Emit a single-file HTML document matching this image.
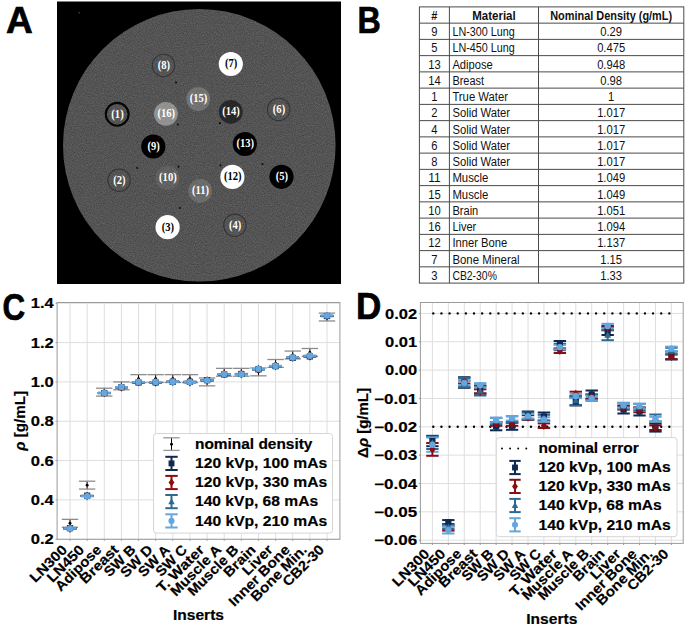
<!DOCTYPE html>
<html><head><meta charset="utf-8"><style>
html,body{margin:0;padding:0;background:#fff;}
body{width:685px;height:626px;overflow:hidden;}
svg{display:block;font-family:"Liberation Sans", sans-serif;}
.ct text{stroke:#000;stroke-width:0.18px;}
</style></head><body>
<svg width="685" height="626" viewBox="0 0 685 626">
<defs>
<filter id="noise" x="0" y="0" width="100%" height="100%" color-interpolation-filters="sRGB">
<feTurbulence type="fractalNoise" baseFrequency="0.9" numOctaves="2" seed="7" result="t"/>
<feColorMatrix in="t" type="matrix" values="0.2 0 0 0 0.229  0.2 0 0 0 0.229  0.2 0 0 0 0.229  0 0 0 0 1" result="g"/>
<feGaussianBlur in="g" stdDeviation="0.55" result="b"/>
<feComposite in="b" in2="SourceGraphic" operator="in"/>
</filter>
</defs>
<rect width="685" height="626" fill="#fff"/>
<text x="5.9" y="32.8" font-size="37" font-weight="bold" fill="#000" stroke="#000" stroke-width="0.7">A</text>
<rect x="57" y="1.5" width="284" height="282.5" fill="#000"/>
<circle cx="79.2" cy="12.8" r="0.8" fill="#8a3010"/>
<circle cx="199.3" cy="145.3" r="136.3" fill="#545454" filter="url(#noise)"/>
<circle cx="117.2" cy="114.3" r="11.4" fill="none" stroke="#050505" stroke-width="2.1"/>
<circle cx="119.1" cy="180.3" r="11.2" fill="none" stroke="#2a2a2a" stroke-width="1.1" stroke-opacity="0.75"/>
<circle cx="167.6" cy="227.2" r="12.1" fill="#ffffff"/>
<circle cx="234.9" cy="225.3" r="11.2" fill="none" stroke="#2a2a2a" stroke-width="1.1" stroke-opacity="0.75"/>
<circle cx="281.5" cy="176.8" r="12.1" fill="#000000"/>
<circle cx="278.7" cy="109.4" r="11.2" fill="none" stroke="#2a2a2a" stroke-width="1.1" stroke-opacity="0.75"/>
<circle cx="230.8" cy="64.0" r="12.1" fill="#ffffff"/>
<circle cx="163.5" cy="65.5" r="11.2" fill="none" stroke="#2a2a2a" stroke-width="1.1" stroke-opacity="0.75"/>
<circle cx="153.3" cy="146.5" r="12.1" fill="#000000"/>
<circle cx="167.6" cy="178.0" r="11.9" fill="#fff" fill-opacity="0.08"/>
<circle cx="200.2" cy="190.8" r="11.9" fill="#fff" fill-opacity="0.14"/>
<circle cx="232.4" cy="176.9" r="12.1" fill="#ffffff"/>
<circle cx="244.9" cy="144.0" r="12.1" fill="#000000"/>
<circle cx="230.8" cy="111.9" r="11.9" fill="#000" fill-opacity="0.52"/>
<circle cx="198.2" cy="99.0" r="11.9" fill="#fff" fill-opacity="0.18"/>
<circle cx="165.9" cy="113.8" r="11.9" fill="#fff" fill-opacity="0.36"/>
<text x="117.5" y="117.7" font-family='"Liberation Serif", serif' font-size="12" font-weight="bold" text-anchor="middle" fill="#fff" textLength="12.31" lengthAdjust="spacingAndGlyphs">(1)</text>
<text x="119.4" y="183.7" font-family='"Liberation Serif", serif' font-size="12" font-weight="bold" text-anchor="middle" fill="#fff" textLength="12.31" lengthAdjust="spacingAndGlyphs">(2)</text>
<text x="167.9" y="230.6" font-family='"Liberation Serif", serif' font-size="12" font-weight="bold" text-anchor="middle" fill="#000" textLength="12.31" lengthAdjust="spacingAndGlyphs">(3)</text>
<text x="235.2" y="228.7" font-family='"Liberation Serif", serif' font-size="12" font-weight="bold" text-anchor="middle" fill="#fff" textLength="12.31" lengthAdjust="spacingAndGlyphs">(4)</text>
<text x="281.8" y="180.2" font-family='"Liberation Serif", serif' font-size="12" font-weight="bold" text-anchor="middle" fill="#fff" textLength="12.31" lengthAdjust="spacingAndGlyphs">(5)</text>
<text x="279.0" y="112.8" font-family='"Liberation Serif", serif' font-size="12" font-weight="bold" text-anchor="middle" fill="#fff" textLength="12.31" lengthAdjust="spacingAndGlyphs">(6)</text>
<text x="231.1" y="67.4" font-family='"Liberation Serif", serif' font-size="12" font-weight="bold" text-anchor="middle" fill="#000" textLength="12.31" lengthAdjust="spacingAndGlyphs">(7)</text>
<text x="163.8" y="68.9" font-family='"Liberation Serif", serif' font-size="12" font-weight="bold" text-anchor="middle" fill="#fff" textLength="12.31" lengthAdjust="spacingAndGlyphs">(8)</text>
<text x="153.6" y="149.9" font-family='"Liberation Serif", serif' font-size="12" font-weight="bold" text-anchor="middle" fill="#fff" textLength="12.31" lengthAdjust="spacingAndGlyphs">(9)</text>
<text x="167.9" y="181.4" font-family='"Liberation Serif", serif' font-size="12" font-weight="bold" text-anchor="middle" fill="#fff" textLength="17.59" lengthAdjust="spacingAndGlyphs">(10)</text>
<text x="200.5" y="194.2" font-family='"Liberation Serif", serif' font-size="12" font-weight="bold" text-anchor="middle" fill="#fff" textLength="17.01" lengthAdjust="spacingAndGlyphs">(11)</text>
<text x="232.7" y="180.3" font-family='"Liberation Serif", serif' font-size="12" font-weight="bold" text-anchor="middle" fill="#000" textLength="17.59" lengthAdjust="spacingAndGlyphs">(12)</text>
<text x="245.2" y="147.4" font-family='"Liberation Serif", serif' font-size="12" font-weight="bold" text-anchor="middle" fill="#fff" textLength="17.59" lengthAdjust="spacingAndGlyphs">(13)</text>
<text x="231.1" y="115.3" font-family='"Liberation Serif", serif' font-size="12" font-weight="bold" text-anchor="middle" fill="#fff" textLength="17.59" lengthAdjust="spacingAndGlyphs">(14)</text>
<text x="198.5" y="102.4" font-family='"Liberation Serif", serif' font-size="12" font-weight="bold" text-anchor="middle" fill="#fff" textLength="17.59" lengthAdjust="spacingAndGlyphs">(15)</text>
<text x="166.2" y="117.2" font-family='"Liberation Serif", serif' font-size="12" font-weight="bold" text-anchor="middle" fill="#fff" textLength="17.59" lengthAdjust="spacingAndGlyphs">(16)</text>
<circle cx="176.1" cy="82.6" r="1.1" fill="#111"/>
<circle cx="177.8" cy="124.5" r="1.1" fill="#111"/>
<circle cx="219.9" cy="123.2" r="1.1" fill="#111"/>
<circle cx="137.2" cy="168.0" r="1.1" fill="#111"/>
<circle cx="178.5" cy="166.7" r="1.1" fill="#111"/>
<circle cx="220.5" cy="165.3" r="1.1" fill="#111"/>
<circle cx="262.5" cy="164.0" r="1.1" fill="#111"/>
<circle cx="180.0" cy="208.0" r="1.1" fill="#111"/>
<text x="357.6" y="32.8" font-size="36" font-weight="bold" fill="#000" stroke="#000" stroke-width="0.7" textLength="23.3" lengthAdjust="spacingAndGlyphs">B</text>
<g stroke="#4a4a4a" stroke-width="1" fill="none">
<rect x="419.4" y="6.9" width="264.4" height="276.2"/>
<line x1="449.4" y1="6.9" x2="449.4" y2="283.1"/>
<line x1="538.5" y1="6.9" x2="538.5" y2="283.1"/>
<line x1="419.4" y1="23.15" x2="683.8" y2="23.15"/>
<line x1="419.4" y1="39.39" x2="683.8" y2="39.39"/>
<line x1="419.4" y1="55.64" x2="683.8" y2="55.64"/>
<line x1="419.4" y1="71.89" x2="683.8" y2="71.89"/>
<line x1="419.4" y1="88.14" x2="683.8" y2="88.14"/>
<line x1="419.4" y1="104.38" x2="683.8" y2="104.38"/>
<line x1="419.4" y1="120.63" x2="683.8" y2="120.63"/>
<line x1="419.4" y1="136.88" x2="683.8" y2="136.88"/>
<line x1="419.4" y1="153.12" x2="683.8" y2="153.12"/>
<line x1="419.4" y1="169.37" x2="683.8" y2="169.37"/>
<line x1="419.4" y1="185.62" x2="683.8" y2="185.62"/>
<line x1="419.4" y1="201.86" x2="683.8" y2="201.86"/>
<line x1="419.4" y1="218.11" x2="683.8" y2="218.11"/>
<line x1="419.4" y1="234.36" x2="683.8" y2="234.36"/>
<line x1="419.4" y1="250.61" x2="683.8" y2="250.61"/>
<line x1="419.4" y1="266.85" x2="683.8" y2="266.85"/>
</g>
<text x="434.40" y="19.80" font-size="12" font-weight="bold" text-anchor="middle" fill="#111" textLength="6.13" lengthAdjust="spacingAndGlyphs">#</text>
<text x="493.95" y="19.80" font-size="12" font-weight="bold" text-anchor="middle" fill="#111" textLength="43.50" lengthAdjust="spacingAndGlyphs">Material</text>
<text x="611.15" y="19.80" font-size="12" font-weight="bold" text-anchor="middle" fill="#111" textLength="121.97" lengthAdjust="spacingAndGlyphs">Nominal Density (g/mL)</text>
<text x="434.40" y="36.05" font-size="12" font-weight="normal" text-anchor="middle" fill="#111" textLength="6.23" lengthAdjust="spacingAndGlyphs">9</text>
<text x="452.40" y="36.05" font-size="12" font-weight="normal" text-anchor="start" fill="#111" textLength="62.25" lengthAdjust="spacingAndGlyphs">LN-300 Lung</text>
<text x="611.15" y="36.05" font-size="12" font-weight="normal" text-anchor="middle" fill="#111" textLength="21.81" lengthAdjust="spacingAndGlyphs">0.29</text>
<text x="434.40" y="52.29" font-size="12" font-weight="normal" text-anchor="middle" fill="#111" textLength="6.23" lengthAdjust="spacingAndGlyphs">5</text>
<text x="452.40" y="52.29" font-size="12" font-weight="normal" text-anchor="start" fill="#111" textLength="62.25" lengthAdjust="spacingAndGlyphs">LN-450 Lung</text>
<text x="611.15" y="52.29" font-size="12" font-weight="normal" text-anchor="middle" fill="#111" textLength="28.04" lengthAdjust="spacingAndGlyphs">0.475</text>
<text x="434.40" y="68.54" font-size="12" font-weight="normal" text-anchor="middle" fill="#111" textLength="12.47" lengthAdjust="spacingAndGlyphs">13</text>
<text x="452.40" y="68.54" font-size="12" font-weight="normal" text-anchor="start" fill="#111" textLength="40.28" lengthAdjust="spacingAndGlyphs">Adipose</text>
<text x="611.15" y="68.54" font-size="12" font-weight="normal" text-anchor="middle" fill="#111" textLength="28.04" lengthAdjust="spacingAndGlyphs">0.948</text>
<text x="434.40" y="84.79" font-size="12" font-weight="normal" text-anchor="middle" fill="#111" textLength="12.47" lengthAdjust="spacingAndGlyphs">14</text>
<text x="452.40" y="84.79" font-size="12" font-weight="normal" text-anchor="start" fill="#111" textLength="31.62" lengthAdjust="spacingAndGlyphs">Breast</text>
<text x="611.15" y="84.79" font-size="12" font-weight="normal" text-anchor="middle" fill="#111" textLength="21.81" lengthAdjust="spacingAndGlyphs">0.98</text>
<text x="434.40" y="101.04" font-size="12" font-weight="normal" text-anchor="middle" fill="#111" textLength="6.23" lengthAdjust="spacingAndGlyphs">1</text>
<text x="452.40" y="101.04" font-size="12" font-weight="normal" text-anchor="start" fill="#111" textLength="55.57" lengthAdjust="spacingAndGlyphs">True Water</text>
<text x="611.15" y="101.04" font-size="12" font-weight="normal" text-anchor="middle" fill="#111" textLength="6.23" lengthAdjust="spacingAndGlyphs">1</text>
<text x="434.40" y="117.28" font-size="12" font-weight="normal" text-anchor="middle" fill="#111" textLength="6.23" lengthAdjust="spacingAndGlyphs">2</text>
<text x="452.40" y="117.28" font-size="12" font-weight="normal" text-anchor="start" fill="#111" textLength="57.72" lengthAdjust="spacingAndGlyphs">Solid Water</text>
<text x="611.15" y="117.28" font-size="12" font-weight="normal" text-anchor="middle" fill="#111" textLength="28.04" lengthAdjust="spacingAndGlyphs">1.017</text>
<text x="434.40" y="133.53" font-size="12" font-weight="normal" text-anchor="middle" fill="#111" textLength="6.23" lengthAdjust="spacingAndGlyphs">4</text>
<text x="452.40" y="133.53" font-size="12" font-weight="normal" text-anchor="start" fill="#111" textLength="57.72" lengthAdjust="spacingAndGlyphs">Solid Water</text>
<text x="611.15" y="133.53" font-size="12" font-weight="normal" text-anchor="middle" fill="#111" textLength="28.04" lengthAdjust="spacingAndGlyphs">1.017</text>
<text x="434.40" y="149.78" font-size="12" font-weight="normal" text-anchor="middle" fill="#111" textLength="6.23" lengthAdjust="spacingAndGlyphs">6</text>
<text x="452.40" y="149.78" font-size="12" font-weight="normal" text-anchor="start" fill="#111" textLength="57.72" lengthAdjust="spacingAndGlyphs">Solid Water</text>
<text x="611.15" y="149.78" font-size="12" font-weight="normal" text-anchor="middle" fill="#111" textLength="28.04" lengthAdjust="spacingAndGlyphs">1.017</text>
<text x="434.40" y="166.02" font-size="12" font-weight="normal" text-anchor="middle" fill="#111" textLength="6.23" lengthAdjust="spacingAndGlyphs">8</text>
<text x="452.40" y="166.02" font-size="12" font-weight="normal" text-anchor="start" fill="#111" textLength="57.72" lengthAdjust="spacingAndGlyphs">Solid Water</text>
<text x="611.15" y="166.02" font-size="12" font-weight="normal" text-anchor="middle" fill="#111" textLength="28.04" lengthAdjust="spacingAndGlyphs">1.017</text>
<text x="434.40" y="182.27" font-size="12" font-weight="normal" text-anchor="middle" fill="#111" textLength="12.47" lengthAdjust="spacingAndGlyphs">11</text>
<text x="452.40" y="182.27" font-size="12" font-weight="normal" text-anchor="start" fill="#111" textLength="35.93" lengthAdjust="spacingAndGlyphs">Muscle</text>
<text x="611.15" y="182.27" font-size="12" font-weight="normal" text-anchor="middle" fill="#111" textLength="28.04" lengthAdjust="spacingAndGlyphs">1.049</text>
<text x="434.40" y="198.52" font-size="12" font-weight="normal" text-anchor="middle" fill="#111" textLength="12.47" lengthAdjust="spacingAndGlyphs">15</text>
<text x="452.40" y="198.52" font-size="12" font-weight="normal" text-anchor="start" fill="#111" textLength="35.93" lengthAdjust="spacingAndGlyphs">Muscle</text>
<text x="611.15" y="198.52" font-size="12" font-weight="normal" text-anchor="middle" fill="#111" textLength="28.04" lengthAdjust="spacingAndGlyphs">1.049</text>
<text x="434.40" y="214.76" font-size="12" font-weight="normal" text-anchor="middle" fill="#111" textLength="12.47" lengthAdjust="spacingAndGlyphs">10</text>
<text x="452.40" y="214.76" font-size="12" font-weight="normal" text-anchor="start" fill="#111" textLength="25.90" lengthAdjust="spacingAndGlyphs">Brain</text>
<text x="611.15" y="214.76" font-size="12" font-weight="normal" text-anchor="middle" fill="#111" textLength="28.04" lengthAdjust="spacingAndGlyphs">1.051</text>
<text x="434.40" y="231.01" font-size="12" font-weight="normal" text-anchor="middle" fill="#111" textLength="12.47" lengthAdjust="spacingAndGlyphs">16</text>
<text x="452.40" y="231.01" font-size="12" font-weight="normal" text-anchor="start" fill="#111" textLength="23.84" lengthAdjust="spacingAndGlyphs">Liver</text>
<text x="611.15" y="231.01" font-size="12" font-weight="normal" text-anchor="middle" fill="#111" textLength="28.04" lengthAdjust="spacingAndGlyphs">1.094</text>
<text x="434.40" y="247.26" font-size="12" font-weight="normal" text-anchor="middle" fill="#111" textLength="12.47" lengthAdjust="spacingAndGlyphs">12</text>
<text x="452.40" y="247.26" font-size="12" font-weight="normal" text-anchor="start" fill="#111" textLength="54.97" lengthAdjust="spacingAndGlyphs">Inner Bone</text>
<text x="611.15" y="247.26" font-size="12" font-weight="normal" text-anchor="middle" fill="#111" textLength="28.04" lengthAdjust="spacingAndGlyphs">1.137</text>
<text x="434.40" y="263.51" font-size="12" font-weight="normal" text-anchor="middle" fill="#111" textLength="6.23" lengthAdjust="spacingAndGlyphs">7</text>
<text x="452.40" y="263.51" font-size="12" font-weight="normal" text-anchor="start" fill="#111" textLength="67.21" lengthAdjust="spacingAndGlyphs">Bone Mineral</text>
<text x="611.15" y="263.51" font-size="12" font-weight="normal" text-anchor="middle" fill="#111" textLength="21.81" lengthAdjust="spacingAndGlyphs">1.15</text>
<text x="434.40" y="279.75" font-size="12" font-weight="normal" text-anchor="middle" fill="#111" textLength="6.23" lengthAdjust="spacingAndGlyphs">3</text>
<text x="452.40" y="279.75" font-size="12" font-weight="normal" text-anchor="start" fill="#111" textLength="44.51" lengthAdjust="spacingAndGlyphs">CB2-30%</text>
<text x="611.15" y="279.75" font-size="12" font-weight="normal" text-anchor="middle" fill="#111" textLength="21.81" lengthAdjust="spacingAndGlyphs">1.33</text>
<g class="ct">
<text x="2.4" y="319.5" font-size="36" font-weight="bold" fill="#000" style="stroke:#000;stroke-width:0.7px" textLength="22.6" lengthAdjust="spacingAndGlyphs">C</text>
<g stroke="#dedede" stroke-width="1">
<line x1="70.00" y1="302.50" x2="70.00" y2="539.30"/>
<line x1="87.13" y1="302.50" x2="87.13" y2="539.30"/>
<line x1="104.27" y1="302.50" x2="104.27" y2="539.30"/>
<line x1="121.40" y1="302.50" x2="121.40" y2="539.30"/>
<line x1="138.53" y1="302.50" x2="138.53" y2="539.30"/>
<line x1="155.66" y1="302.50" x2="155.66" y2="539.30"/>
<line x1="172.80" y1="302.50" x2="172.80" y2="539.30"/>
<line x1="189.93" y1="302.50" x2="189.93" y2="539.30"/>
<line x1="207.06" y1="302.50" x2="207.06" y2="539.30"/>
<line x1="224.20" y1="302.50" x2="224.20" y2="539.30"/>
<line x1="241.33" y1="302.50" x2="241.33" y2="539.30"/>
<line x1="258.46" y1="302.50" x2="258.46" y2="539.30"/>
<line x1="275.60" y1="302.50" x2="275.60" y2="539.30"/>
<line x1="292.73" y1="302.50" x2="292.73" y2="539.30"/>
<line x1="309.86" y1="302.50" x2="309.86" y2="539.30"/>
<line x1="327.00" y1="302.50" x2="327.00" y2="539.30"/>
<line x1="57.10" y1="539.20" x2="339.90" y2="539.20"/>
<line x1="57.10" y1="499.88" x2="339.90" y2="499.88"/>
<line x1="57.10" y1="460.56" x2="339.90" y2="460.56"/>
<line x1="57.10" y1="421.24" x2="339.90" y2="421.24"/>
<line x1="57.10" y1="381.92" x2="339.90" y2="381.92"/>
<line x1="57.10" y1="342.60" x2="339.90" y2="342.60"/>
<line x1="57.10" y1="303.28" x2="339.90" y2="303.28"/>
</g>
<line x1="70.00" y1="519.34" x2="70.00" y2="527.21" stroke="#000" stroke-width="1"/>
<line x1="61.80" y1="519.34" x2="78.20" y2="519.34" stroke="#8c8c8c" stroke-width="1.3"/>
<line x1="61.80" y1="527.21" x2="78.20" y2="527.21" stroke="#8c8c8c" stroke-width="1.3"/>
<circle cx="70.00" cy="523.28" r="1.45" fill="#000"/>
<line x1="87.13" y1="481.20" x2="87.13" y2="489.07" stroke="#000" stroke-width="1"/>
<line x1="78.93" y1="481.20" x2="95.33" y2="481.20" stroke="#8c8c8c" stroke-width="1.3"/>
<line x1="78.93" y1="489.07" x2="95.33" y2="489.07" stroke="#8c8c8c" stroke-width="1.3"/>
<circle cx="87.13" cy="485.14" r="1.45" fill="#000"/>
<line x1="104.27" y1="388.21" x2="104.27" y2="396.08" stroke="#000" stroke-width="1"/>
<line x1="96.07" y1="388.21" x2="112.47" y2="388.21" stroke="#8c8c8c" stroke-width="1.3"/>
<line x1="96.07" y1="396.08" x2="112.47" y2="396.08" stroke="#8c8c8c" stroke-width="1.3"/>
<circle cx="104.27" cy="392.14" r="1.45" fill="#000"/>
<line x1="121.40" y1="381.92" x2="121.40" y2="389.78" stroke="#000" stroke-width="1"/>
<line x1="113.20" y1="381.92" x2="129.60" y2="381.92" stroke="#8c8c8c" stroke-width="1.3"/>
<line x1="113.20" y1="389.78" x2="129.60" y2="389.78" stroke="#8c8c8c" stroke-width="1.3"/>
<circle cx="121.40" cy="385.85" r="1.45" fill="#000"/>
<line x1="138.53" y1="374.65" x2="138.53" y2="382.51" stroke="#000" stroke-width="1"/>
<line x1="130.33" y1="374.65" x2="146.73" y2="374.65" stroke="#8c8c8c" stroke-width="1.3"/>
<line x1="130.33" y1="382.51" x2="146.73" y2="382.51" stroke="#8c8c8c" stroke-width="1.3"/>
<circle cx="138.53" cy="378.58" r="1.45" fill="#000"/>
<line x1="155.66" y1="374.65" x2="155.66" y2="382.51" stroke="#000" stroke-width="1"/>
<line x1="147.47" y1="374.65" x2="163.86" y2="374.65" stroke="#8c8c8c" stroke-width="1.3"/>
<line x1="147.47" y1="382.51" x2="163.86" y2="382.51" stroke="#8c8c8c" stroke-width="1.3"/>
<circle cx="155.66" cy="378.58" r="1.45" fill="#000"/>
<line x1="172.80" y1="374.65" x2="172.80" y2="382.51" stroke="#000" stroke-width="1"/>
<line x1="164.60" y1="374.65" x2="181.00" y2="374.65" stroke="#8c8c8c" stroke-width="1.3"/>
<line x1="164.60" y1="382.51" x2="181.00" y2="382.51" stroke="#8c8c8c" stroke-width="1.3"/>
<circle cx="172.80" cy="378.58" r="1.45" fill="#000"/>
<line x1="189.93" y1="374.65" x2="189.93" y2="382.51" stroke="#000" stroke-width="1"/>
<line x1="181.73" y1="374.65" x2="198.13" y2="374.65" stroke="#8c8c8c" stroke-width="1.3"/>
<line x1="181.73" y1="382.51" x2="198.13" y2="382.51" stroke="#8c8c8c" stroke-width="1.3"/>
<circle cx="189.93" cy="378.58" r="1.45" fill="#000"/>
<line x1="207.06" y1="377.99" x2="207.06" y2="385.85" stroke="#000" stroke-width="1"/>
<line x1="198.86" y1="377.99" x2="215.26" y2="377.99" stroke="#8c8c8c" stroke-width="1.3"/>
<line x1="198.86" y1="385.85" x2="215.26" y2="385.85" stroke="#8c8c8c" stroke-width="1.3"/>
<circle cx="207.06" cy="381.92" r="1.45" fill="#000"/>
<line x1="224.20" y1="368.35" x2="224.20" y2="376.22" stroke="#000" stroke-width="1"/>
<line x1="216.00" y1="368.35" x2="232.40" y2="368.35" stroke="#8c8c8c" stroke-width="1.3"/>
<line x1="216.00" y1="376.22" x2="232.40" y2="376.22" stroke="#8c8c8c" stroke-width="1.3"/>
<circle cx="224.20" cy="372.29" r="1.45" fill="#000"/>
<line x1="241.33" y1="368.35" x2="241.33" y2="376.22" stroke="#000" stroke-width="1"/>
<line x1="233.13" y1="368.35" x2="249.53" y2="368.35" stroke="#8c8c8c" stroke-width="1.3"/>
<line x1="233.13" y1="376.22" x2="249.53" y2="376.22" stroke="#8c8c8c" stroke-width="1.3"/>
<circle cx="241.33" cy="372.29" r="1.45" fill="#000"/>
<line x1="258.46" y1="367.96" x2="258.46" y2="375.83" stroke="#000" stroke-width="1"/>
<line x1="250.26" y1="367.96" x2="266.66" y2="367.96" stroke="#8c8c8c" stroke-width="1.3"/>
<line x1="250.26" y1="375.83" x2="266.66" y2="375.83" stroke="#8c8c8c" stroke-width="1.3"/>
<circle cx="258.46" cy="371.89" r="1.45" fill="#000"/>
<line x1="275.60" y1="359.51" x2="275.60" y2="367.37" stroke="#000" stroke-width="1"/>
<line x1="267.40" y1="359.51" x2="283.80" y2="359.51" stroke="#8c8c8c" stroke-width="1.3"/>
<line x1="267.40" y1="367.37" x2="283.80" y2="367.37" stroke="#8c8c8c" stroke-width="1.3"/>
<circle cx="275.60" cy="363.44" r="1.45" fill="#000"/>
<line x1="292.73" y1="351.05" x2="292.73" y2="358.92" stroke="#000" stroke-width="1"/>
<line x1="284.53" y1="351.05" x2="300.93" y2="351.05" stroke="#8c8c8c" stroke-width="1.3"/>
<line x1="284.53" y1="358.92" x2="300.93" y2="358.92" stroke="#8c8c8c" stroke-width="1.3"/>
<circle cx="292.73" cy="354.99" r="1.45" fill="#000"/>
<line x1="309.86" y1="348.50" x2="309.86" y2="356.36" stroke="#000" stroke-width="1"/>
<line x1="301.66" y1="348.50" x2="318.06" y2="348.50" stroke="#8c8c8c" stroke-width="1.3"/>
<line x1="301.66" y1="356.36" x2="318.06" y2="356.36" stroke="#8c8c8c" stroke-width="1.3"/>
<circle cx="309.86" cy="352.43" r="1.45" fill="#000"/>
<line x1="327.00" y1="313.11" x2="327.00" y2="320.97" stroke="#000" stroke-width="1"/>
<line x1="318.80" y1="313.11" x2="335.19" y2="313.11" stroke="#8c8c8c" stroke-width="1.3"/>
<line x1="318.80" y1="320.97" x2="335.19" y2="320.97" stroke="#8c8c8c" stroke-width="1.3"/>
<circle cx="327.00" cy="317.04" r="1.45" fill="#000"/>
<line x1="70.00" y1="527.83" x2="70.00" y2="528.55" stroke="#0e2a50" stroke-width="2.00"/>
<line x1="63.60" y1="527.83" x2="76.40" y2="527.83" stroke="#0e2a50" stroke-width="1.60"/>
<line x1="63.60" y1="528.55" x2="76.40" y2="528.55" stroke="#0e2a50" stroke-width="1.60"/>
<line x1="87.13" y1="495.54" x2="87.13" y2="495.81" stroke="#0e2a50" stroke-width="2.00"/>
<line x1="80.73" y1="495.54" x2="93.53" y2="495.54" stroke="#0e2a50" stroke-width="1.60"/>
<line x1="80.73" y1="495.81" x2="93.53" y2="495.81" stroke="#0e2a50" stroke-width="1.60"/>
<line x1="104.27" y1="392.64" x2="104.27" y2="393.37" stroke="#0e2a50" stroke-width="2.00"/>
<line x1="97.87" y1="392.64" x2="110.67" y2="392.64" stroke="#0e2a50" stroke-width="1.60"/>
<line x1="97.87" y1="393.37" x2="110.67" y2="393.37" stroke="#0e2a50" stroke-width="1.60"/>
<line x1="121.40" y1="386.92" x2="121.40" y2="387.47" stroke="#0e2a50" stroke-width="2.00"/>
<line x1="115.00" y1="386.92" x2="127.80" y2="386.92" stroke="#0e2a50" stroke-width="1.60"/>
<line x1="115.00" y1="387.47" x2="127.80" y2="387.47" stroke="#0e2a50" stroke-width="1.60"/>
<line x1="138.53" y1="382.20" x2="138.53" y2="382.75" stroke="#0e2a50" stroke-width="2.00"/>
<line x1="132.13" y1="382.20" x2="144.93" y2="382.20" stroke="#0e2a50" stroke-width="1.60"/>
<line x1="132.13" y1="382.75" x2="144.93" y2="382.75" stroke="#0e2a50" stroke-width="1.60"/>
<line x1="155.66" y1="382.16" x2="155.66" y2="382.72" stroke="#0e2a50" stroke-width="2.00"/>
<line x1="149.26" y1="382.16" x2="162.06" y2="382.16" stroke="#0e2a50" stroke-width="1.60"/>
<line x1="149.26" y1="382.72" x2="162.06" y2="382.72" stroke="#0e2a50" stroke-width="1.60"/>
<line x1="172.80" y1="381.45" x2="172.80" y2="382.00" stroke="#0e2a50" stroke-width="2.00"/>
<line x1="166.40" y1="381.45" x2="179.20" y2="381.45" stroke="#0e2a50" stroke-width="1.60"/>
<line x1="166.40" y1="382.00" x2="179.20" y2="382.00" stroke="#0e2a50" stroke-width="1.60"/>
<line x1="189.93" y1="381.52" x2="189.93" y2="382.07" stroke="#0e2a50" stroke-width="2.00"/>
<line x1="183.53" y1="381.52" x2="196.33" y2="381.52" stroke="#0e2a50" stroke-width="1.60"/>
<line x1="183.53" y1="382.07" x2="196.33" y2="382.07" stroke="#0e2a50" stroke-width="1.60"/>
<line x1="207.06" y1="379.90" x2="207.06" y2="380.46" stroke="#0e2a50" stroke-width="2.00"/>
<line x1="200.66" y1="379.90" x2="213.46" y2="379.90" stroke="#0e2a50" stroke-width="1.60"/>
<line x1="200.66" y1="380.46" x2="213.46" y2="380.46" stroke="#0e2a50" stroke-width="1.60"/>
<line x1="224.20" y1="374.19" x2="224.20" y2="374.74" stroke="#0e2a50" stroke-width="2.00"/>
<line x1="217.80" y1="374.19" x2="230.60" y2="374.19" stroke="#0e2a50" stroke-width="1.60"/>
<line x1="217.80" y1="374.74" x2="230.60" y2="374.74" stroke="#0e2a50" stroke-width="1.60"/>
<line x1="241.33" y1="373.70" x2="241.33" y2="374.26" stroke="#0e2a50" stroke-width="2.00"/>
<line x1="234.93" y1="373.70" x2="247.73" y2="373.70" stroke="#0e2a50" stroke-width="1.60"/>
<line x1="234.93" y1="374.26" x2="247.73" y2="374.26" stroke="#0e2a50" stroke-width="1.60"/>
<line x1="258.46" y1="368.90" x2="258.46" y2="369.46" stroke="#0e2a50" stroke-width="2.00"/>
<line x1="252.06" y1="368.90" x2="264.86" y2="368.90" stroke="#0e2a50" stroke-width="1.60"/>
<line x1="252.06" y1="369.46" x2="264.86" y2="369.46" stroke="#0e2a50" stroke-width="1.60"/>
<line x1="275.60" y1="365.89" x2="275.60" y2="366.45" stroke="#0e2a50" stroke-width="2.00"/>
<line x1="269.20" y1="365.89" x2="282.00" y2="365.89" stroke="#0e2a50" stroke-width="1.60"/>
<line x1="269.20" y1="366.45" x2="282.00" y2="366.45" stroke="#0e2a50" stroke-width="1.60"/>
<line x1="292.73" y1="357.58" x2="292.73" y2="358.13" stroke="#0e2a50" stroke-width="2.00"/>
<line x1="286.33" y1="357.58" x2="299.13" y2="357.58" stroke="#0e2a50" stroke-width="1.60"/>
<line x1="286.33" y1="358.13" x2="299.13" y2="358.13" stroke="#0e2a50" stroke-width="1.60"/>
<line x1="309.86" y1="356.14" x2="309.86" y2="356.69" stroke="#0e2a50" stroke-width="2.00"/>
<line x1="303.46" y1="356.14" x2="316.26" y2="356.14" stroke="#0e2a50" stroke-width="1.60"/>
<line x1="303.46" y1="356.69" x2="316.26" y2="356.69" stroke="#0e2a50" stroke-width="1.60"/>
<line x1="327.00" y1="315.75" x2="327.00" y2="316.31" stroke="#0e2a50" stroke-width="2.00"/>
<line x1="320.60" y1="315.75" x2="333.39" y2="315.75" stroke="#0e2a50" stroke-width="1.60"/>
<line x1="320.60" y1="316.31" x2="333.39" y2="316.31" stroke="#0e2a50" stroke-width="1.60"/>
<line x1="70.00" y1="528.33" x2="70.00" y2="529.22" stroke="#8b0d12" stroke-width="2.00"/>
<line x1="63.60" y1="528.33" x2="76.40" y2="528.33" stroke="#8b0d12" stroke-width="1.60"/>
<line x1="63.60" y1="529.22" x2="76.40" y2="529.22" stroke="#8b0d12" stroke-width="1.60"/>
<line x1="87.13" y1="495.97" x2="87.13" y2="496.27" stroke="#8b0d12" stroke-width="2.00"/>
<line x1="80.73" y1="495.97" x2="93.53" y2="495.97" stroke="#8b0d12" stroke-width="1.60"/>
<line x1="80.73" y1="496.27" x2="93.53" y2="496.27" stroke="#8b0d12" stroke-width="1.60"/>
<line x1="104.27" y1="392.86" x2="104.27" y2="393.07" stroke="#8b0d12" stroke-width="2.00"/>
<line x1="97.87" y1="392.86" x2="110.67" y2="392.86" stroke="#8b0d12" stroke-width="1.60"/>
<line x1="97.87" y1="393.07" x2="110.67" y2="393.07" stroke="#8b0d12" stroke-width="1.60"/>
<line x1="121.40" y1="387.18" x2="121.40" y2="387.47" stroke="#8b0d12" stroke-width="2.00"/>
<line x1="115.00" y1="387.18" x2="127.80" y2="387.18" stroke="#8b0d12" stroke-width="1.60"/>
<line x1="115.00" y1="387.47" x2="127.80" y2="387.47" stroke="#8b0d12" stroke-width="1.60"/>
<line x1="138.53" y1="382.19" x2="138.53" y2="382.44" stroke="#8b0d12" stroke-width="2.00"/>
<line x1="132.13" y1="382.19" x2="144.93" y2="382.19" stroke="#8b0d12" stroke-width="1.60"/>
<line x1="132.13" y1="382.44" x2="144.93" y2="382.44" stroke="#8b0d12" stroke-width="1.60"/>
<line x1="155.66" y1="382.23" x2="155.66" y2="382.44" stroke="#8b0d12" stroke-width="2.00"/>
<line x1="149.26" y1="382.23" x2="162.06" y2="382.23" stroke="#8b0d12" stroke-width="1.60"/>
<line x1="149.26" y1="382.44" x2="162.06" y2="382.44" stroke="#8b0d12" stroke-width="1.60"/>
<line x1="172.80" y1="381.71" x2="172.80" y2="382.02" stroke="#8b0d12" stroke-width="2.00"/>
<line x1="166.40" y1="381.71" x2="179.20" y2="381.71" stroke="#8b0d12" stroke-width="1.60"/>
<line x1="166.40" y1="382.02" x2="179.20" y2="382.02" stroke="#8b0d12" stroke-width="1.60"/>
<line x1="189.93" y1="382.27" x2="189.93" y2="382.59" stroke="#8b0d12" stroke-width="2.00"/>
<line x1="183.53" y1="382.27" x2="196.33" y2="382.27" stroke="#8b0d12" stroke-width="1.60"/>
<line x1="183.53" y1="382.59" x2="196.33" y2="382.59" stroke="#8b0d12" stroke-width="1.60"/>
<line x1="207.06" y1="380.42" x2="207.06" y2="380.73" stroke="#8b0d12" stroke-width="2.00"/>
<line x1="200.66" y1="380.42" x2="213.46" y2="380.42" stroke="#8b0d12" stroke-width="1.60"/>
<line x1="200.66" y1="380.73" x2="213.46" y2="380.73" stroke="#8b0d12" stroke-width="1.60"/>
<line x1="224.20" y1="373.78" x2="224.20" y2="374.10" stroke="#8b0d12" stroke-width="2.00"/>
<line x1="217.80" y1="373.78" x2="230.60" y2="373.78" stroke="#8b0d12" stroke-width="1.60"/>
<line x1="217.80" y1="374.10" x2="230.60" y2="374.10" stroke="#8b0d12" stroke-width="1.60"/>
<line x1="241.33" y1="373.99" x2="241.33" y2="374.31" stroke="#8b0d12" stroke-width="2.00"/>
<line x1="234.93" y1="373.99" x2="247.73" y2="373.99" stroke="#8b0d12" stroke-width="1.60"/>
<line x1="234.93" y1="374.31" x2="247.73" y2="374.31" stroke="#8b0d12" stroke-width="1.60"/>
<line x1="258.46" y1="368.81" x2="258.46" y2="369.13" stroke="#8b0d12" stroke-width="2.00"/>
<line x1="252.06" y1="368.81" x2="264.86" y2="368.81" stroke="#8b0d12" stroke-width="1.60"/>
<line x1="252.06" y1="369.13" x2="264.86" y2="369.13" stroke="#8b0d12" stroke-width="1.60"/>
<line x1="275.60" y1="365.96" x2="275.60" y2="366.18" stroke="#8b0d12" stroke-width="2.00"/>
<line x1="269.20" y1="365.96" x2="282.00" y2="365.96" stroke="#8b0d12" stroke-width="1.60"/>
<line x1="269.20" y1="366.18" x2="282.00" y2="366.18" stroke="#8b0d12" stroke-width="1.60"/>
<line x1="292.73" y1="357.59" x2="292.73" y2="357.91" stroke="#8b0d12" stroke-width="2.00"/>
<line x1="286.33" y1="357.59" x2="299.13" y2="357.59" stroke="#8b0d12" stroke-width="1.60"/>
<line x1="286.33" y1="357.91" x2="299.13" y2="357.91" stroke="#8b0d12" stroke-width="1.60"/>
<line x1="309.86" y1="356.26" x2="309.86" y2="356.58" stroke="#8b0d12" stroke-width="2.00"/>
<line x1="303.46" y1="356.26" x2="316.26" y2="356.26" stroke="#8b0d12" stroke-width="1.60"/>
<line x1="303.46" y1="356.58" x2="316.26" y2="356.58" stroke="#8b0d12" stroke-width="1.60"/>
<line x1="327.00" y1="315.96" x2="327.00" y2="316.28" stroke="#8b0d12" stroke-width="2.00"/>
<line x1="320.60" y1="315.96" x2="333.39" y2="315.96" stroke="#8b0d12" stroke-width="1.60"/>
<line x1="320.60" y1="316.28" x2="333.39" y2="316.28" stroke="#8b0d12" stroke-width="1.60"/>
<line x1="70.00" y1="527.88" x2="70.00" y2="528.75" stroke="#2f6890" stroke-width="2.00"/>
<line x1="63.60" y1="527.88" x2="76.40" y2="527.88" stroke="#2f6890" stroke-width="1.60"/>
<line x1="63.60" y1="528.75" x2="76.40" y2="528.75" stroke="#2f6890" stroke-width="1.60"/>
<line x1="87.13" y1="495.88" x2="87.13" y2="496.15" stroke="#2f6890" stroke-width="2.00"/>
<line x1="80.73" y1="495.88" x2="93.53" y2="495.88" stroke="#2f6890" stroke-width="1.60"/>
<line x1="80.73" y1="496.15" x2="93.53" y2="496.15" stroke="#2f6890" stroke-width="1.60"/>
<line x1="104.27" y1="392.69" x2="104.27" y2="393.32" stroke="#2f6890" stroke-width="2.00"/>
<line x1="97.87" y1="392.69" x2="110.67" y2="392.69" stroke="#2f6890" stroke-width="1.60"/>
<line x1="97.87" y1="393.32" x2="110.67" y2="393.32" stroke="#2f6890" stroke-width="1.60"/>
<line x1="121.40" y1="386.99" x2="121.40" y2="387.61" stroke="#2f6890" stroke-width="2.00"/>
<line x1="115.00" y1="386.99" x2="127.80" y2="386.99" stroke="#2f6890" stroke-width="1.60"/>
<line x1="115.00" y1="387.61" x2="127.80" y2="387.61" stroke="#2f6890" stroke-width="1.60"/>
<line x1="138.53" y1="381.89" x2="138.53" y2="382.33" stroke="#2f6890" stroke-width="2.00"/>
<line x1="132.13" y1="381.89" x2="144.93" y2="381.89" stroke="#2f6890" stroke-width="1.60"/>
<line x1="132.13" y1="382.33" x2="144.93" y2="382.33" stroke="#2f6890" stroke-width="1.60"/>
<line x1="155.66" y1="381.78" x2="155.66" y2="382.23" stroke="#2f6890" stroke-width="2.00"/>
<line x1="149.26" y1="381.78" x2="162.06" y2="381.78" stroke="#2f6890" stroke-width="1.60"/>
<line x1="149.26" y1="382.23" x2="162.06" y2="382.23" stroke="#2f6890" stroke-width="1.60"/>
<line x1="172.80" y1="381.52" x2="172.80" y2="382.00" stroke="#2f6890" stroke-width="2.00"/>
<line x1="166.40" y1="381.52" x2="179.20" y2="381.52" stroke="#2f6890" stroke-width="1.60"/>
<line x1="166.40" y1="382.00" x2="179.20" y2="382.00" stroke="#2f6890" stroke-width="1.60"/>
<line x1="189.93" y1="381.68" x2="189.93" y2="382.12" stroke="#2f6890" stroke-width="2.00"/>
<line x1="183.53" y1="381.68" x2="196.33" y2="381.68" stroke="#2f6890" stroke-width="1.60"/>
<line x1="183.53" y1="382.12" x2="196.33" y2="382.12" stroke="#2f6890" stroke-width="1.60"/>
<line x1="207.06" y1="380.10" x2="207.06" y2="380.54" stroke="#2f6890" stroke-width="2.00"/>
<line x1="200.66" y1="380.10" x2="213.46" y2="380.10" stroke="#2f6890" stroke-width="1.60"/>
<line x1="200.66" y1="380.54" x2="213.46" y2="380.54" stroke="#2f6890" stroke-width="1.60"/>
<line x1="224.20" y1="374.08" x2="224.20" y2="374.71" stroke="#2f6890" stroke-width="2.00"/>
<line x1="217.80" y1="374.08" x2="230.60" y2="374.08" stroke="#2f6890" stroke-width="1.60"/>
<line x1="217.80" y1="374.71" x2="230.60" y2="374.71" stroke="#2f6890" stroke-width="1.60"/>
<line x1="241.33" y1="373.96" x2="241.33" y2="374.41" stroke="#2f6890" stroke-width="2.00"/>
<line x1="234.93" y1="373.96" x2="247.73" y2="373.96" stroke="#2f6890" stroke-width="1.60"/>
<line x1="234.93" y1="374.41" x2="247.73" y2="374.41" stroke="#2f6890" stroke-width="1.60"/>
<line x1="258.46" y1="369.10" x2="258.46" y2="369.82" stroke="#2f6890" stroke-width="2.00"/>
<line x1="252.06" y1="369.10" x2="264.86" y2="369.10" stroke="#2f6890" stroke-width="1.60"/>
<line x1="252.06" y1="369.82" x2="264.86" y2="369.82" stroke="#2f6890" stroke-width="1.60"/>
<line x1="275.60" y1="365.71" x2="275.60" y2="366.15" stroke="#2f6890" stroke-width="2.00"/>
<line x1="269.20" y1="365.71" x2="282.00" y2="365.71" stroke="#2f6890" stroke-width="1.60"/>
<line x1="269.20" y1="366.15" x2="282.00" y2="366.15" stroke="#2f6890" stroke-width="1.60"/>
<line x1="292.73" y1="357.32" x2="292.73" y2="357.77" stroke="#2f6890" stroke-width="2.00"/>
<line x1="286.33" y1="357.32" x2="299.13" y2="357.32" stroke="#2f6890" stroke-width="1.60"/>
<line x1="286.33" y1="357.77" x2="299.13" y2="357.77" stroke="#2f6890" stroke-width="1.60"/>
<line x1="309.86" y1="355.51" x2="309.86" y2="355.99" stroke="#2f6890" stroke-width="2.00"/>
<line x1="303.46" y1="355.51" x2="316.26" y2="355.51" stroke="#2f6890" stroke-width="1.60"/>
<line x1="303.46" y1="355.99" x2="316.26" y2="355.99" stroke="#2f6890" stroke-width="1.60"/>
<line x1="327.00" y1="315.50" x2="327.00" y2="315.94" stroke="#2f6890" stroke-width="2.00"/>
<line x1="320.60" y1="315.50" x2="333.39" y2="315.50" stroke="#2f6890" stroke-width="1.60"/>
<line x1="320.60" y1="315.94" x2="333.39" y2="315.94" stroke="#2f6890" stroke-width="1.60"/>
<line x1="70.00" y1="527.96" x2="70.00" y2="528.94" stroke="#65a6dd" stroke-width="2.00"/>
<line x1="63.60" y1="527.96" x2="76.40" y2="527.96" stroke="#65a6dd" stroke-width="1.60"/>
<line x1="63.60" y1="528.94" x2="76.40" y2="528.94" stroke="#65a6dd" stroke-width="1.60"/>
<line x1="87.13" y1="495.98" x2="87.13" y2="496.47" stroke="#65a6dd" stroke-width="2.00"/>
<line x1="80.73" y1="495.98" x2="93.53" y2="495.98" stroke="#65a6dd" stroke-width="1.60"/>
<line x1="80.73" y1="496.47" x2="93.53" y2="496.47" stroke="#65a6dd" stroke-width="1.60"/>
<line x1="104.27" y1="392.89" x2="104.27" y2="393.19" stroke="#65a6dd" stroke-width="2.00"/>
<line x1="97.87" y1="392.89" x2="110.67" y2="392.89" stroke="#65a6dd" stroke-width="1.60"/>
<line x1="97.87" y1="393.19" x2="110.67" y2="393.19" stroke="#65a6dd" stroke-width="1.60"/>
<line x1="121.40" y1="386.75" x2="121.40" y2="387.06" stroke="#65a6dd" stroke-width="2.00"/>
<line x1="115.00" y1="386.75" x2="127.80" y2="386.75" stroke="#65a6dd" stroke-width="1.60"/>
<line x1="115.00" y1="387.06" x2="127.80" y2="387.06" stroke="#65a6dd" stroke-width="1.60"/>
<line x1="138.53" y1="381.89" x2="138.53" y2="382.19" stroke="#65a6dd" stroke-width="2.00"/>
<line x1="132.13" y1="381.89" x2="144.93" y2="381.89" stroke="#65a6dd" stroke-width="1.60"/>
<line x1="132.13" y1="382.19" x2="144.93" y2="382.19" stroke="#65a6dd" stroke-width="1.60"/>
<line x1="155.66" y1="381.77" x2="155.66" y2="382.07" stroke="#65a6dd" stroke-width="2.00"/>
<line x1="149.26" y1="381.77" x2="162.06" y2="381.77" stroke="#65a6dd" stroke-width="1.60"/>
<line x1="149.26" y1="382.07" x2="162.06" y2="382.07" stroke="#65a6dd" stroke-width="1.60"/>
<line x1="172.80" y1="381.62" x2="172.80" y2="381.93" stroke="#65a6dd" stroke-width="2.00"/>
<line x1="166.40" y1="381.62" x2="179.20" y2="381.62" stroke="#65a6dd" stroke-width="1.60"/>
<line x1="166.40" y1="381.93" x2="179.20" y2="381.93" stroke="#65a6dd" stroke-width="1.60"/>
<line x1="189.93" y1="381.85" x2="189.93" y2="382.16" stroke="#65a6dd" stroke-width="2.00"/>
<line x1="183.53" y1="381.85" x2="196.33" y2="381.85" stroke="#65a6dd" stroke-width="1.60"/>
<line x1="183.53" y1="382.16" x2="196.33" y2="382.16" stroke="#65a6dd" stroke-width="1.60"/>
<line x1="207.06" y1="380.17" x2="207.06" y2="380.48" stroke="#65a6dd" stroke-width="2.00"/>
<line x1="200.66" y1="380.17" x2="213.46" y2="380.17" stroke="#65a6dd" stroke-width="1.60"/>
<line x1="200.66" y1="380.48" x2="213.46" y2="380.48" stroke="#65a6dd" stroke-width="1.60"/>
<line x1="224.20" y1="373.93" x2="224.20" y2="374.24" stroke="#65a6dd" stroke-width="2.00"/>
<line x1="217.80" y1="373.93" x2="230.60" y2="373.93" stroke="#65a6dd" stroke-width="1.60"/>
<line x1="217.80" y1="374.24" x2="230.60" y2="374.24" stroke="#65a6dd" stroke-width="1.60"/>
<line x1="241.33" y1="374.08" x2="241.33" y2="374.39" stroke="#65a6dd" stroke-width="2.00"/>
<line x1="234.93" y1="374.08" x2="247.73" y2="374.08" stroke="#65a6dd" stroke-width="1.60"/>
<line x1="234.93" y1="374.39" x2="247.73" y2="374.39" stroke="#65a6dd" stroke-width="1.60"/>
<line x1="258.46" y1="368.68" x2="258.46" y2="368.99" stroke="#65a6dd" stroke-width="2.00"/>
<line x1="252.06" y1="368.68" x2="264.86" y2="368.68" stroke="#65a6dd" stroke-width="1.60"/>
<line x1="252.06" y1="368.99" x2="264.86" y2="368.99" stroke="#65a6dd" stroke-width="1.60"/>
<line x1="275.60" y1="365.73" x2="275.60" y2="366.03" stroke="#65a6dd" stroke-width="2.00"/>
<line x1="269.20" y1="365.73" x2="282.00" y2="365.73" stroke="#65a6dd" stroke-width="1.60"/>
<line x1="269.20" y1="366.03" x2="282.00" y2="366.03" stroke="#65a6dd" stroke-width="1.60"/>
<line x1="292.73" y1="357.32" x2="292.73" y2="357.63" stroke="#65a6dd" stroke-width="2.00"/>
<line x1="286.33" y1="357.32" x2="299.13" y2="357.32" stroke="#65a6dd" stroke-width="1.60"/>
<line x1="286.33" y1="357.63" x2="299.13" y2="357.63" stroke="#65a6dd" stroke-width="1.60"/>
<line x1="309.86" y1="355.67" x2="309.86" y2="355.97" stroke="#65a6dd" stroke-width="2.00"/>
<line x1="303.46" y1="355.67" x2="316.26" y2="355.67" stroke="#65a6dd" stroke-width="1.60"/>
<line x1="303.46" y1="355.97" x2="316.26" y2="355.97" stroke="#65a6dd" stroke-width="1.60"/>
<line x1="327.00" y1="315.41" x2="327.00" y2="315.72" stroke="#65a6dd" stroke-width="2.00"/>
<line x1="320.60" y1="315.41" x2="333.39" y2="315.41" stroke="#65a6dd" stroke-width="1.60"/>
<line x1="320.60" y1="315.72" x2="333.39" y2="315.72" stroke="#65a6dd" stroke-width="1.60"/>
<rect x="66.90" y="525.09" width="6.20" height="6.20" fill="#0e2a50"/>
<rect x="84.03" y="492.58" width="6.20" height="6.20" fill="#0e2a50"/>
<rect x="101.17" y="389.90" width="6.20" height="6.20" fill="#0e2a50"/>
<rect x="118.30" y="384.10" width="6.20" height="6.20" fill="#0e2a50"/>
<rect x="135.43" y="379.38" width="6.20" height="6.20" fill="#0e2a50"/>
<rect x="152.56" y="379.34" width="6.20" height="6.20" fill="#0e2a50"/>
<rect x="169.70" y="378.63" width="6.20" height="6.20" fill="#0e2a50"/>
<rect x="186.83" y="378.70" width="6.20" height="6.20" fill="#0e2a50"/>
<rect x="203.96" y="377.08" width="6.20" height="6.20" fill="#0e2a50"/>
<rect x="221.10" y="371.36" width="6.20" height="6.20" fill="#0e2a50"/>
<rect x="238.23" y="370.88" width="6.20" height="6.20" fill="#0e2a50"/>
<rect x="255.36" y="366.08" width="6.20" height="6.20" fill="#0e2a50"/>
<rect x="272.50" y="363.07" width="6.20" height="6.20" fill="#0e2a50"/>
<rect x="289.63" y="354.76" width="6.20" height="6.20" fill="#0e2a50"/>
<rect x="306.76" y="353.32" width="6.20" height="6.20" fill="#0e2a50"/>
<rect x="323.89" y="312.93" width="6.20" height="6.20" fill="#0e2a50"/>
<path d="M70.00 524.47L73.10 528.77L70.00 533.07L66.90 528.77Z" fill="#8b0d12"/>
<path d="M87.13 491.82L90.23 496.12L87.13 500.42L84.03 496.12Z" fill="#8b0d12"/>
<path d="M104.27 388.67L107.37 392.97L104.27 397.27L101.17 392.97Z" fill="#8b0d12"/>
<path d="M121.40 383.03L124.50 387.33L121.40 391.63L118.30 387.33Z" fill="#8b0d12"/>
<path d="M138.53 378.02L141.63 382.32L138.53 386.62L135.43 382.32Z" fill="#8b0d12"/>
<path d="M155.66 378.04L158.76 382.34L155.66 386.64L152.56 382.34Z" fill="#8b0d12"/>
<path d="M172.80 377.56L175.90 381.86L172.80 386.16L169.70 381.86Z" fill="#8b0d12"/>
<path d="M189.93 378.13L193.03 382.43L189.93 386.73L186.83 382.43Z" fill="#8b0d12"/>
<path d="M207.06 376.27L210.16 380.57L207.06 384.87L203.96 380.57Z" fill="#8b0d12"/>
<path d="M224.20 369.64L227.30 373.94L224.20 378.24L221.10 373.94Z" fill="#8b0d12"/>
<path d="M241.33 369.85L244.43 374.15L241.33 378.45L238.23 374.15Z" fill="#8b0d12"/>
<path d="M258.46 364.67L261.56 368.97L258.46 373.27L255.36 368.97Z" fill="#8b0d12"/>
<path d="M275.60 361.77L278.70 366.07L275.60 370.37L272.50 366.07Z" fill="#8b0d12"/>
<path d="M292.73 353.45L295.83 357.75L292.73 362.05L289.63 357.75Z" fill="#8b0d12"/>
<path d="M309.86 352.12L312.96 356.42L309.86 360.72L306.76 356.42Z" fill="#8b0d12"/>
<path d="M327.00 311.82L330.10 316.12L327.00 320.42L323.89 316.12Z" fill="#8b0d12"/>
<path d="M70.00 524.71L73.42 531.01L66.58 531.01Z" fill="#2f6890"/>
<path d="M87.13 492.42L90.55 498.72L83.71 498.72Z" fill="#2f6890"/>
<path d="M104.27 389.40L107.69 395.70L100.85 395.70Z" fill="#2f6890"/>
<path d="M121.40 383.70L124.82 390.00L117.98 390.00Z" fill="#2f6890"/>
<path d="M138.53 378.51L141.95 384.81L135.11 384.81Z" fill="#2f6890"/>
<path d="M155.66 378.40L159.08 384.70L152.25 384.70Z" fill="#2f6890"/>
<path d="M172.80 378.16L176.22 384.46L169.38 384.46Z" fill="#2f6890"/>
<path d="M189.93 378.30L193.35 384.60L186.51 384.60Z" fill="#2f6890"/>
<path d="M207.06 376.72L210.48 383.02L203.64 383.02Z" fill="#2f6890"/>
<path d="M224.20 370.79L227.62 377.09L220.78 377.09Z" fill="#2f6890"/>
<path d="M241.33 370.59L244.75 376.89L237.91 376.89Z" fill="#2f6890"/>
<path d="M258.46 365.86L261.88 372.16L255.04 372.16Z" fill="#2f6890"/>
<path d="M275.60 362.33L279.02 368.63L272.18 368.63Z" fill="#2f6890"/>
<path d="M292.73 353.94L296.15 360.24L289.31 360.24Z" fill="#2f6890"/>
<path d="M309.86 352.15L313.28 358.45L306.44 358.45Z" fill="#2f6890"/>
<path d="M327.00 312.12L330.42 318.42L323.57 318.42Z" fill="#2f6890"/>
<circle cx="70.00" cy="528.45" r="3.20" fill="#65a6dd"/>
<circle cx="87.13" cy="496.22" r="3.20" fill="#65a6dd"/>
<circle cx="104.27" cy="393.04" r="3.20" fill="#65a6dd"/>
<circle cx="121.40" cy="386.91" r="3.20" fill="#65a6dd"/>
<circle cx="138.53" cy="382.04" r="3.20" fill="#65a6dd"/>
<circle cx="155.66" cy="381.92" r="3.20" fill="#65a6dd"/>
<circle cx="172.80" cy="381.77" r="3.20" fill="#65a6dd"/>
<circle cx="189.93" cy="382.00" r="3.20" fill="#65a6dd"/>
<circle cx="207.06" cy="380.33" r="3.20" fill="#65a6dd"/>
<circle cx="224.20" cy="374.08" r="3.20" fill="#65a6dd"/>
<circle cx="241.33" cy="374.24" r="3.20" fill="#65a6dd"/>
<circle cx="258.46" cy="368.84" r="3.20" fill="#65a6dd"/>
<circle cx="275.60" cy="365.88" r="3.20" fill="#65a6dd"/>
<circle cx="292.73" cy="357.48" r="3.20" fill="#65a6dd"/>
<circle cx="309.86" cy="355.82" r="3.20" fill="#65a6dd"/>
<circle cx="327.00" cy="315.56" r="3.20" fill="#65a6dd"/>
<rect x="57.10" y="302.50" width="282.80" height="236.80" fill="none" stroke="#9a9a9a" stroke-width="1"/>
<g stroke="#9a9a9a" stroke-width="1">
<line x1="70.00" y1="539.30" x2="70.00" y2="540.90"/>
<line x1="87.13" y1="539.30" x2="87.13" y2="540.90"/>
<line x1="104.27" y1="539.30" x2="104.27" y2="540.90"/>
<line x1="121.40" y1="539.30" x2="121.40" y2="540.90"/>
<line x1="138.53" y1="539.30" x2="138.53" y2="540.90"/>
<line x1="155.66" y1="539.30" x2="155.66" y2="540.90"/>
<line x1="172.80" y1="539.30" x2="172.80" y2="540.90"/>
<line x1="189.93" y1="539.30" x2="189.93" y2="540.90"/>
<line x1="207.06" y1="539.30" x2="207.06" y2="540.90"/>
<line x1="224.20" y1="539.30" x2="224.20" y2="540.90"/>
<line x1="241.33" y1="539.30" x2="241.33" y2="540.90"/>
<line x1="258.46" y1="539.30" x2="258.46" y2="540.90"/>
<line x1="275.60" y1="539.30" x2="275.60" y2="540.90"/>
<line x1="292.73" y1="539.30" x2="292.73" y2="540.90"/>
<line x1="309.86" y1="539.30" x2="309.86" y2="540.90"/>
<line x1="327.00" y1="539.30" x2="327.00" y2="540.90"/>
<line x1="55.50" y1="539.20" x2="57.10" y2="539.20"/>
<line x1="55.50" y1="499.88" x2="57.10" y2="499.88"/>
<line x1="55.50" y1="460.56" x2="57.10" y2="460.56"/>
<line x1="55.50" y1="421.24" x2="57.10" y2="421.24"/>
<line x1="55.50" y1="381.92" x2="57.10" y2="381.92"/>
<line x1="55.50" y1="342.60" x2="57.10" y2="342.60"/>
<line x1="55.50" y1="303.28" x2="57.10" y2="303.28"/>
</g>
<text x="53.80" y="544.40" font-size="14.00" font-weight="bold" text-anchor="end" textLength="23.03" lengthAdjust="spacingAndGlyphs">0.2</text>
<text x="53.80" y="505.08" font-size="14.00" font-weight="bold" text-anchor="end" textLength="23.03" lengthAdjust="spacingAndGlyphs">0.4</text>
<text x="53.80" y="465.76" font-size="14.00" font-weight="bold" text-anchor="end" textLength="23.03" lengthAdjust="spacingAndGlyphs">0.6</text>
<text x="53.80" y="426.44" font-size="14.00" font-weight="bold" text-anchor="end" textLength="23.03" lengthAdjust="spacingAndGlyphs">0.8</text>
<text x="53.80" y="387.12" font-size="14.00" font-weight="bold" text-anchor="end" textLength="23.03" lengthAdjust="spacingAndGlyphs">1.0</text>
<text x="53.80" y="347.80" font-size="14.00" font-weight="bold" text-anchor="end" textLength="23.03" lengthAdjust="spacingAndGlyphs">1.2</text>
<text x="53.80" y="308.48" font-size="14.00" font-weight="bold" text-anchor="end" textLength="23.03" lengthAdjust="spacingAndGlyphs">1.4</text>
<text transform="translate(68.00 550.60) rotate(-45)" font-size="14.00" font-weight="bold" text-anchor="end" textLength="46.30" lengthAdjust="spacingAndGlyphs">LN300</text>
<text transform="translate(85.13 550.60) rotate(-45)" font-size="14.00" font-weight="bold" text-anchor="end" textLength="46.30" lengthAdjust="spacingAndGlyphs">LN450</text>
<text transform="translate(102.27 550.60) rotate(-45)" font-size="14.00" font-weight="bold" text-anchor="end" textLength="58.61" lengthAdjust="spacingAndGlyphs">Adipose</text>
<text transform="translate(119.40 550.60) rotate(-45)" font-size="14.00" font-weight="bold" text-anchor="end" textLength="47.86" lengthAdjust="spacingAndGlyphs">Breast</text>
<text transform="translate(136.53 550.60) rotate(-45)" font-size="14.00" font-weight="bold" text-anchor="end" textLength="38.13" lengthAdjust="spacingAndGlyphs">SW B</text>
<text transform="translate(153.66 550.60) rotate(-45)" font-size="14.00" font-weight="bold" text-anchor="end" textLength="39.02" lengthAdjust="spacingAndGlyphs">SW D</text>
<text transform="translate(170.80 550.60) rotate(-45)" font-size="14.00" font-weight="bold" text-anchor="end" textLength="38.29" lengthAdjust="spacingAndGlyphs">SW A</text>
<text transform="translate(187.93 550.60) rotate(-45)" font-size="14.00" font-weight="bold" text-anchor="end" textLength="37.77" lengthAdjust="spacingAndGlyphs">SW C</text>
<text transform="translate(205.06 550.60) rotate(-45)" font-size="14.00" font-weight="bold" text-anchor="end" textLength="60.45" lengthAdjust="spacingAndGlyphs">T. Water</text>
<text transform="translate(222.20 550.60) rotate(-45)" font-size="14.00" font-weight="bold" text-anchor="end" textLength="65.50" lengthAdjust="spacingAndGlyphs">Muscle A</text>
<text transform="translate(239.33 550.60) rotate(-45)" font-size="14.00" font-weight="bold" text-anchor="end" textLength="65.34" lengthAdjust="spacingAndGlyphs">Muscle B</text>
<text transform="translate(256.46 550.60) rotate(-45)" font-size="14.00" font-weight="bold" text-anchor="end" textLength="38.80" lengthAdjust="spacingAndGlyphs">Brain</text>
<text transform="translate(273.60 550.60) rotate(-45)" font-size="14.00" font-weight="bold" text-anchor="end" textLength="36.44" lengthAdjust="spacingAndGlyphs">Liver</text>
<text transform="translate(290.73 550.60) rotate(-45)" font-size="14.00" font-weight="bold" text-anchor="end" textLength="80.01" lengthAdjust="spacingAndGlyphs">Inner Bone</text>
<text transform="translate(307.86 550.60) rotate(-45)" font-size="14.00" font-weight="bold" text-anchor="end" textLength="73.02" lengthAdjust="spacingAndGlyphs">Bone Min.</text>
<text transform="translate(325.00 550.60) rotate(-45)" font-size="14.00" font-weight="bold" text-anchor="end" textLength="51.98" lengthAdjust="spacingAndGlyphs">CB2-30</text>
<text x="198.50" y="620.4" font-size="14.00" font-weight="bold" text-anchor="middle" textLength="51.01" lengthAdjust="spacingAndGlyphs">Inserts</text>
<text transform="translate(25.3 420.90) rotate(-90)" font-size="14.00" font-weight="bold" text-anchor="middle" textLength="59.70" lengthAdjust="spacingAndGlyphs"><tspan font-style="italic">&#961;</tspan> [g/mL]</text>
<rect x="153.50" y="433.50" width="179.00" height="99.60" rx="3" fill="#fff" fill-opacity="1" stroke="#d6d6d6" stroke-width="1"/>
<line x1="171.50" y1="437.80" x2="171.50" y2="450.40" stroke="#000" stroke-width="1"/>
<line x1="163.30" y1="437.80" x2="179.70" y2="437.80" stroke="#999" stroke-width="1.3"/>
<line x1="163.30" y1="450.40" x2="179.70" y2="450.40" stroke="#999" stroke-width="1.3"/>
<circle cx="171.50" cy="444.20" r="1.45" fill="#000"/>
<line x1="171.50" y1="456.80" x2="171.50" y2="470.00" stroke="#0e2a50" stroke-width="2.00"/>
<line x1="165.30" y1="456.80" x2="177.70" y2="456.80" stroke="#0e2a50" stroke-width="2.00"/>
<line x1="165.30" y1="470.00" x2="177.70" y2="470.00" stroke="#0e2a50" stroke-width="2.00"/>
<rect x="168.56" y="460.45" width="5.89" height="5.89" fill="#0e2a50"/>
<line x1="171.50" y1="475.90" x2="171.50" y2="489.10" stroke="#8b0d12" stroke-width="2.00"/>
<line x1="165.30" y1="475.90" x2="177.70" y2="475.90" stroke="#8b0d12" stroke-width="2.00"/>
<line x1="165.30" y1="489.10" x2="177.70" y2="489.10" stroke="#8b0d12" stroke-width="2.00"/>
<path d="M171.50 478.42L174.44 482.50L171.50 486.58L168.56 482.50Z" fill="#8b0d12"/>
<line x1="171.50" y1="495.00" x2="171.50" y2="508.20" stroke="#2f6890" stroke-width="2.00"/>
<line x1="165.30" y1="495.00" x2="177.70" y2="495.00" stroke="#2f6890" stroke-width="2.00"/>
<line x1="165.30" y1="508.20" x2="177.70" y2="508.20" stroke="#2f6890" stroke-width="2.00"/>
<path d="M171.50 498.18L174.75 504.17L168.25 504.17Z" fill="#2f6890"/>
<line x1="171.50" y1="514.30" x2="171.50" y2="527.50" stroke="#65a6dd" stroke-width="2.00"/>
<line x1="165.30" y1="514.30" x2="177.70" y2="514.30" stroke="#65a6dd" stroke-width="2.00"/>
<line x1="165.30" y1="527.50" x2="177.70" y2="527.50" stroke="#65a6dd" stroke-width="2.00"/>
<circle cx="171.50" cy="520.90" r="3.04" fill="#65a6dd"/>
<text x="195.0" y="448.90" font-size="14.00" font-weight="bold" textLength="117.46" lengthAdjust="spacingAndGlyphs">nominal density</text>
<text x="195.0" y="468.10" font-size="14.00" font-weight="bold" textLength="132.14" lengthAdjust="spacingAndGlyphs">120 kVp, 100 mAs</text>
<text x="195.0" y="487.20" font-size="14.00" font-weight="bold" textLength="132.14" lengthAdjust="spacingAndGlyphs">120 kVp, 330 mAs</text>
<text x="195.0" y="506.30" font-size="14.00" font-weight="bold" textLength="123.10" lengthAdjust="spacingAndGlyphs">140 kVp, 68 mAs</text>
<text x="195.0" y="525.60" font-size="14.00" font-weight="bold" textLength="132.14" lengthAdjust="spacingAndGlyphs">140 kVp, 210 mAs</text>
<text x="356.1" y="319.1" font-size="36" font-weight="bold" fill="#000" style="stroke:#000;stroke-width:0.7px" textLength="25.3" lengthAdjust="spacingAndGlyphs">D</text>
<g stroke="#dedede" stroke-width="1">
<line x1="432.40" y1="302.50" x2="432.40" y2="543.40"/>
<line x1="448.33" y1="302.50" x2="448.33" y2="543.40"/>
<line x1="464.27" y1="302.50" x2="464.27" y2="543.40"/>
<line x1="480.20" y1="302.50" x2="480.20" y2="543.40"/>
<line x1="496.13" y1="302.50" x2="496.13" y2="543.40"/>
<line x1="512.06" y1="302.50" x2="512.06" y2="543.40"/>
<line x1="528.00" y1="302.50" x2="528.00" y2="543.40"/>
<line x1="543.93" y1="302.50" x2="543.93" y2="543.40"/>
<line x1="559.86" y1="302.50" x2="559.86" y2="543.40"/>
<line x1="575.80" y1="302.50" x2="575.80" y2="543.40"/>
<line x1="591.73" y1="302.50" x2="591.73" y2="543.40"/>
<line x1="607.66" y1="302.50" x2="607.66" y2="543.40"/>
<line x1="623.60" y1="302.50" x2="623.60" y2="543.40"/>
<line x1="639.53" y1="302.50" x2="639.53" y2="543.40"/>
<line x1="655.46" y1="302.50" x2="655.46" y2="543.40"/>
<line x1="671.39" y1="302.50" x2="671.39" y2="543.40"/>
<line x1="420.40" y1="313.40" x2="683.20" y2="313.40"/>
<line x1="420.40" y1="341.75" x2="683.20" y2="341.75"/>
<line x1="420.40" y1="370.10" x2="683.20" y2="370.10"/>
<line x1="420.40" y1="398.45" x2="683.20" y2="398.45"/>
<line x1="420.40" y1="426.80" x2="683.20" y2="426.80"/>
<line x1="420.40" y1="455.15" x2="683.20" y2="455.15"/>
<line x1="420.40" y1="483.50" x2="683.20" y2="483.50"/>
<line x1="420.40" y1="511.85" x2="683.20" y2="511.85"/>
<line x1="420.40" y1="540.20" x2="683.20" y2="540.20"/>
</g>
<line x1="433.30" y1="313.40" x2="671.89" y2="313.40" stroke="#000" stroke-width="2.4" stroke-linecap="round" stroke-dasharray="0 8.14"/>
<line x1="433.30" y1="426.80" x2="671.89" y2="426.80" stroke="#000" stroke-width="2.4" stroke-linecap="round" stroke-dasharray="0 8.14"/>
<line x1="432.40" y1="435.80" x2="432.40" y2="446.20" stroke="#0e2a50" stroke-width="2.00"/>
<line x1="426.20" y1="435.80" x2="438.60" y2="435.80" stroke="#0e2a50" stroke-width="2.00"/>
<line x1="426.20" y1="446.20" x2="438.60" y2="446.20" stroke="#0e2a50" stroke-width="2.00"/>
<line x1="448.33" y1="520.10" x2="448.33" y2="524.10" stroke="#0e2a50" stroke-width="2.00"/>
<line x1="442.13" y1="520.10" x2="454.53" y2="520.10" stroke="#0e2a50" stroke-width="2.00"/>
<line x1="442.13" y1="524.10" x2="454.53" y2="524.10" stroke="#0e2a50" stroke-width="2.00"/>
<line x1="464.27" y1="377.20" x2="464.27" y2="387.80" stroke="#0e2a50" stroke-width="2.00"/>
<line x1="458.07" y1="377.20" x2="470.47" y2="377.20" stroke="#0e2a50" stroke-width="2.00"/>
<line x1="458.07" y1="387.80" x2="470.47" y2="387.80" stroke="#0e2a50" stroke-width="2.00"/>
<line x1="480.20" y1="385.50" x2="480.20" y2="393.50" stroke="#0e2a50" stroke-width="2.00"/>
<line x1="474.00" y1="385.50" x2="486.40" y2="385.50" stroke="#0e2a50" stroke-width="2.00"/>
<line x1="474.00" y1="393.50" x2="486.40" y2="393.50" stroke="#0e2a50" stroke-width="2.00"/>
<line x1="496.13" y1="422.30" x2="496.13" y2="430.30" stroke="#0e2a50" stroke-width="2.00"/>
<line x1="489.93" y1="422.30" x2="502.33" y2="422.30" stroke="#0e2a50" stroke-width="2.00"/>
<line x1="489.93" y1="430.30" x2="502.33" y2="430.30" stroke="#0e2a50" stroke-width="2.00"/>
<line x1="512.06" y1="421.80" x2="512.06" y2="429.80" stroke="#0e2a50" stroke-width="2.00"/>
<line x1="505.86" y1="421.80" x2="518.26" y2="421.80" stroke="#0e2a50" stroke-width="2.00"/>
<line x1="505.86" y1="429.80" x2="518.26" y2="429.80" stroke="#0e2a50" stroke-width="2.00"/>
<line x1="528.00" y1="411.50" x2="528.00" y2="419.50" stroke="#0e2a50" stroke-width="2.00"/>
<line x1="521.80" y1="411.50" x2="534.20" y2="411.50" stroke="#0e2a50" stroke-width="2.00"/>
<line x1="521.80" y1="419.50" x2="534.20" y2="419.50" stroke="#0e2a50" stroke-width="2.00"/>
<line x1="543.93" y1="412.50" x2="543.93" y2="420.50" stroke="#0e2a50" stroke-width="2.00"/>
<line x1="537.73" y1="412.50" x2="550.13" y2="412.50" stroke="#0e2a50" stroke-width="2.00"/>
<line x1="537.73" y1="420.50" x2="550.13" y2="420.50" stroke="#0e2a50" stroke-width="2.00"/>
<line x1="559.86" y1="341.00" x2="559.86" y2="349.00" stroke="#0e2a50" stroke-width="2.00"/>
<line x1="553.66" y1="341.00" x2="566.06" y2="341.00" stroke="#0e2a50" stroke-width="2.00"/>
<line x1="553.66" y1="349.00" x2="566.06" y2="349.00" stroke="#0e2a50" stroke-width="2.00"/>
<line x1="575.80" y1="397.50" x2="575.80" y2="405.50" stroke="#0e2a50" stroke-width="2.00"/>
<line x1="569.60" y1="397.50" x2="582.00" y2="397.50" stroke="#0e2a50" stroke-width="2.00"/>
<line x1="569.60" y1="405.50" x2="582.00" y2="405.50" stroke="#0e2a50" stroke-width="2.00"/>
<line x1="591.73" y1="390.50" x2="591.73" y2="398.50" stroke="#0e2a50" stroke-width="2.00"/>
<line x1="585.53" y1="390.50" x2="597.93" y2="390.50" stroke="#0e2a50" stroke-width="2.00"/>
<line x1="585.53" y1="398.50" x2="597.93" y2="398.50" stroke="#0e2a50" stroke-width="2.00"/>
<line x1="607.66" y1="327.00" x2="607.66" y2="335.00" stroke="#0e2a50" stroke-width="2.00"/>
<line x1="601.46" y1="327.00" x2="613.86" y2="327.00" stroke="#0e2a50" stroke-width="2.00"/>
<line x1="601.46" y1="335.00" x2="613.86" y2="335.00" stroke="#0e2a50" stroke-width="2.00"/>
<line x1="623.60" y1="405.50" x2="623.60" y2="413.50" stroke="#0e2a50" stroke-width="2.00"/>
<line x1="617.40" y1="405.50" x2="629.80" y2="405.50" stroke="#0e2a50" stroke-width="2.00"/>
<line x1="617.40" y1="413.50" x2="629.80" y2="413.50" stroke="#0e2a50" stroke-width="2.00"/>
<line x1="639.53" y1="407.50" x2="639.53" y2="415.50" stroke="#0e2a50" stroke-width="2.00"/>
<line x1="633.33" y1="407.50" x2="645.73" y2="407.50" stroke="#0e2a50" stroke-width="2.00"/>
<line x1="633.33" y1="415.50" x2="645.73" y2="415.50" stroke="#0e2a50" stroke-width="2.00"/>
<line x1="655.46" y1="423.60" x2="655.46" y2="431.60" stroke="#0e2a50" stroke-width="2.00"/>
<line x1="649.26" y1="423.60" x2="661.66" y2="423.60" stroke="#0e2a50" stroke-width="2.00"/>
<line x1="649.26" y1="431.60" x2="661.66" y2="431.60" stroke="#0e2a50" stroke-width="2.00"/>
<line x1="671.39" y1="351.50" x2="671.39" y2="359.50" stroke="#0e2a50" stroke-width="2.00"/>
<line x1="665.19" y1="351.50" x2="677.60" y2="351.50" stroke="#0e2a50" stroke-width="2.00"/>
<line x1="665.19" y1="359.50" x2="677.60" y2="359.50" stroke="#0e2a50" stroke-width="2.00"/>
<line x1="432.40" y1="443.00" x2="432.40" y2="455.80" stroke="#8b0d12" stroke-width="2.00"/>
<line x1="426.20" y1="443.00" x2="438.60" y2="443.00" stroke="#8b0d12" stroke-width="2.00"/>
<line x1="426.20" y1="455.80" x2="438.60" y2="455.80" stroke="#8b0d12" stroke-width="2.00"/>
<line x1="448.33" y1="526.40" x2="448.33" y2="530.60" stroke="#8b0d12" stroke-width="2.00"/>
<line x1="442.13" y1="526.40" x2="454.53" y2="526.40" stroke="#8b0d12" stroke-width="2.00"/>
<line x1="442.13" y1="530.60" x2="454.53" y2="530.60" stroke="#8b0d12" stroke-width="2.00"/>
<line x1="464.27" y1="380.50" x2="464.27" y2="383.50" stroke="#8b0d12" stroke-width="2.00"/>
<line x1="458.07" y1="380.50" x2="470.47" y2="380.50" stroke="#8b0d12" stroke-width="2.00"/>
<line x1="458.07" y1="383.50" x2="470.47" y2="383.50" stroke="#8b0d12" stroke-width="2.00"/>
<line x1="480.20" y1="389.30" x2="480.20" y2="393.50" stroke="#8b0d12" stroke-width="2.00"/>
<line x1="474.00" y1="389.30" x2="486.40" y2="389.30" stroke="#8b0d12" stroke-width="2.00"/>
<line x1="474.00" y1="393.50" x2="486.40" y2="393.50" stroke="#8b0d12" stroke-width="2.00"/>
<line x1="496.13" y1="422.20" x2="496.13" y2="425.80" stroke="#8b0d12" stroke-width="2.00"/>
<line x1="489.93" y1="422.20" x2="502.33" y2="422.20" stroke="#8b0d12" stroke-width="2.00"/>
<line x1="489.93" y1="425.80" x2="502.33" y2="425.80" stroke="#8b0d12" stroke-width="2.00"/>
<line x1="512.06" y1="422.80" x2="512.06" y2="425.80" stroke="#8b0d12" stroke-width="2.00"/>
<line x1="505.86" y1="422.80" x2="518.26" y2="422.80" stroke="#8b0d12" stroke-width="2.00"/>
<line x1="505.86" y1="425.80" x2="518.26" y2="425.80" stroke="#8b0d12" stroke-width="2.00"/>
<line x1="528.00" y1="415.20" x2="528.00" y2="419.80" stroke="#8b0d12" stroke-width="2.00"/>
<line x1="521.80" y1="415.20" x2="534.20" y2="415.20" stroke="#8b0d12" stroke-width="2.00"/>
<line x1="521.80" y1="419.80" x2="534.20" y2="419.80" stroke="#8b0d12" stroke-width="2.00"/>
<line x1="543.93" y1="423.40" x2="543.93" y2="428.00" stroke="#8b0d12" stroke-width="2.00"/>
<line x1="537.73" y1="423.40" x2="550.13" y2="423.40" stroke="#8b0d12" stroke-width="2.00"/>
<line x1="537.73" y1="428.00" x2="550.13" y2="428.00" stroke="#8b0d12" stroke-width="2.00"/>
<line x1="559.86" y1="348.40" x2="559.86" y2="353.00" stroke="#8b0d12" stroke-width="2.00"/>
<line x1="553.66" y1="348.40" x2="566.06" y2="348.40" stroke="#8b0d12" stroke-width="2.00"/>
<line x1="553.66" y1="353.00" x2="566.06" y2="353.00" stroke="#8b0d12" stroke-width="2.00"/>
<line x1="575.80" y1="391.70" x2="575.80" y2="396.30" stroke="#8b0d12" stroke-width="2.00"/>
<line x1="569.60" y1="391.70" x2="582.00" y2="391.70" stroke="#8b0d12" stroke-width="2.00"/>
<line x1="569.60" y1="396.30" x2="582.00" y2="396.30" stroke="#8b0d12" stroke-width="2.00"/>
<line x1="591.73" y1="394.70" x2="591.73" y2="399.30" stroke="#8b0d12" stroke-width="2.00"/>
<line x1="585.53" y1="394.70" x2="597.93" y2="394.70" stroke="#8b0d12" stroke-width="2.00"/>
<line x1="585.53" y1="399.30" x2="597.93" y2="399.30" stroke="#8b0d12" stroke-width="2.00"/>
<line x1="607.66" y1="325.70" x2="607.66" y2="330.30" stroke="#8b0d12" stroke-width="2.00"/>
<line x1="601.46" y1="325.70" x2="613.86" y2="325.70" stroke="#8b0d12" stroke-width="2.00"/>
<line x1="601.46" y1="330.30" x2="613.86" y2="330.30" stroke="#8b0d12" stroke-width="2.00"/>
<line x1="623.60" y1="406.40" x2="623.60" y2="409.60" stroke="#8b0d12" stroke-width="2.00"/>
<line x1="617.40" y1="406.40" x2="629.80" y2="406.40" stroke="#8b0d12" stroke-width="2.00"/>
<line x1="617.40" y1="409.60" x2="629.80" y2="409.60" stroke="#8b0d12" stroke-width="2.00"/>
<line x1="639.53" y1="407.70" x2="639.53" y2="412.30" stroke="#8b0d12" stroke-width="2.00"/>
<line x1="633.33" y1="407.70" x2="645.73" y2="407.70" stroke="#8b0d12" stroke-width="2.00"/>
<line x1="633.33" y1="412.30" x2="645.73" y2="412.30" stroke="#8b0d12" stroke-width="2.00"/>
<line x1="655.46" y1="425.40" x2="655.46" y2="430.00" stroke="#8b0d12" stroke-width="2.00"/>
<line x1="649.26" y1="425.40" x2="661.66" y2="425.40" stroke="#8b0d12" stroke-width="2.00"/>
<line x1="649.26" y1="430.00" x2="661.66" y2="430.00" stroke="#8b0d12" stroke-width="2.00"/>
<line x1="671.39" y1="354.50" x2="671.39" y2="359.10" stroke="#8b0d12" stroke-width="2.00"/>
<line x1="665.19" y1="354.50" x2="677.60" y2="354.50" stroke="#8b0d12" stroke-width="2.00"/>
<line x1="665.19" y1="359.10" x2="677.60" y2="359.10" stroke="#8b0d12" stroke-width="2.00"/>
<line x1="432.40" y1="436.50" x2="432.40" y2="449.00" stroke="#2f6890" stroke-width="2.00"/>
<line x1="426.20" y1="436.50" x2="438.60" y2="436.50" stroke="#2f6890" stroke-width="2.00"/>
<line x1="426.20" y1="449.00" x2="438.60" y2="449.00" stroke="#2f6890" stroke-width="2.00"/>
<line x1="448.33" y1="525.00" x2="448.33" y2="529.00" stroke="#2f6890" stroke-width="2.00"/>
<line x1="442.13" y1="525.00" x2="454.53" y2="525.00" stroke="#2f6890" stroke-width="2.00"/>
<line x1="442.13" y1="529.00" x2="454.53" y2="529.00" stroke="#2f6890" stroke-width="2.00"/>
<line x1="464.27" y1="378.00" x2="464.27" y2="387.00" stroke="#2f6890" stroke-width="2.00"/>
<line x1="458.07" y1="378.00" x2="470.47" y2="378.00" stroke="#2f6890" stroke-width="2.00"/>
<line x1="458.07" y1="387.00" x2="470.47" y2="387.00" stroke="#2f6890" stroke-width="2.00"/>
<line x1="480.20" y1="386.50" x2="480.20" y2="395.50" stroke="#2f6890" stroke-width="2.00"/>
<line x1="474.00" y1="386.50" x2="486.40" y2="386.50" stroke="#2f6890" stroke-width="2.00"/>
<line x1="474.00" y1="395.50" x2="486.40" y2="395.50" stroke="#2f6890" stroke-width="2.00"/>
<line x1="496.13" y1="417.80" x2="496.13" y2="424.20" stroke="#2f6890" stroke-width="2.00"/>
<line x1="489.93" y1="417.80" x2="502.33" y2="417.80" stroke="#2f6890" stroke-width="2.00"/>
<line x1="489.93" y1="424.20" x2="502.33" y2="424.20" stroke="#2f6890" stroke-width="2.00"/>
<line x1="512.06" y1="416.30" x2="512.06" y2="422.70" stroke="#2f6890" stroke-width="2.00"/>
<line x1="505.86" y1="416.30" x2="518.26" y2="416.30" stroke="#2f6890" stroke-width="2.00"/>
<line x1="505.86" y1="422.70" x2="518.26" y2="422.70" stroke="#2f6890" stroke-width="2.00"/>
<line x1="528.00" y1="412.50" x2="528.00" y2="419.50" stroke="#2f6890" stroke-width="2.00"/>
<line x1="521.80" y1="412.50" x2="534.20" y2="412.50" stroke="#2f6890" stroke-width="2.00"/>
<line x1="521.80" y1="419.50" x2="534.20" y2="419.50" stroke="#2f6890" stroke-width="2.00"/>
<line x1="543.93" y1="414.80" x2="543.93" y2="421.20" stroke="#2f6890" stroke-width="2.00"/>
<line x1="537.73" y1="414.80" x2="550.13" y2="414.80" stroke="#2f6890" stroke-width="2.00"/>
<line x1="537.73" y1="421.20" x2="550.13" y2="421.20" stroke="#2f6890" stroke-width="2.00"/>
<line x1="559.86" y1="343.80" x2="559.86" y2="350.20" stroke="#2f6890" stroke-width="2.00"/>
<line x1="553.66" y1="343.80" x2="566.06" y2="343.80" stroke="#2f6890" stroke-width="2.00"/>
<line x1="553.66" y1="350.20" x2="566.06" y2="350.20" stroke="#2f6890" stroke-width="2.00"/>
<line x1="575.80" y1="396.00" x2="575.80" y2="405.00" stroke="#2f6890" stroke-width="2.00"/>
<line x1="569.60" y1="396.00" x2="582.00" y2="396.00" stroke="#2f6890" stroke-width="2.00"/>
<line x1="569.60" y1="405.00" x2="582.00" y2="405.00" stroke="#2f6890" stroke-width="2.00"/>
<line x1="591.73" y1="394.30" x2="591.73" y2="400.70" stroke="#2f6890" stroke-width="2.00"/>
<line x1="585.53" y1="394.30" x2="597.93" y2="394.30" stroke="#2f6890" stroke-width="2.00"/>
<line x1="585.53" y1="400.70" x2="597.93" y2="400.70" stroke="#2f6890" stroke-width="2.00"/>
<line x1="607.66" y1="329.80" x2="607.66" y2="340.20" stroke="#2f6890" stroke-width="2.00"/>
<line x1="601.46" y1="329.80" x2="613.86" y2="329.80" stroke="#2f6890" stroke-width="2.00"/>
<line x1="601.46" y1="340.20" x2="613.86" y2="340.20" stroke="#2f6890" stroke-width="2.00"/>
<line x1="623.60" y1="402.80" x2="623.60" y2="409.20" stroke="#2f6890" stroke-width="2.00"/>
<line x1="617.40" y1="402.80" x2="629.80" y2="402.80" stroke="#2f6890" stroke-width="2.00"/>
<line x1="617.40" y1="409.20" x2="629.80" y2="409.20" stroke="#2f6890" stroke-width="2.00"/>
<line x1="639.53" y1="403.80" x2="639.53" y2="410.20" stroke="#2f6890" stroke-width="2.00"/>
<line x1="633.33" y1="403.80" x2="645.73" y2="403.80" stroke="#2f6890" stroke-width="2.00"/>
<line x1="633.33" y1="410.20" x2="645.73" y2="410.20" stroke="#2f6890" stroke-width="2.00"/>
<line x1="655.46" y1="414.50" x2="655.46" y2="421.50" stroke="#2f6890" stroke-width="2.00"/>
<line x1="649.26" y1="414.50" x2="661.66" y2="414.50" stroke="#2f6890" stroke-width="2.00"/>
<line x1="649.26" y1="421.50" x2="661.66" y2="421.50" stroke="#2f6890" stroke-width="2.00"/>
<line x1="671.39" y1="347.80" x2="671.39" y2="354.20" stroke="#2f6890" stroke-width="2.00"/>
<line x1="665.19" y1="347.80" x2="677.60" y2="347.80" stroke="#2f6890" stroke-width="2.00"/>
<line x1="665.19" y1="354.20" x2="677.60" y2="354.20" stroke="#2f6890" stroke-width="2.00"/>
<line x1="432.40" y1="437.60" x2="432.40" y2="451.80" stroke="#65a6dd" stroke-width="2.00"/>
<line x1="426.20" y1="437.60" x2="438.60" y2="437.60" stroke="#65a6dd" stroke-width="2.00"/>
<line x1="426.20" y1="451.80" x2="438.60" y2="451.80" stroke="#65a6dd" stroke-width="2.00"/>
<line x1="448.33" y1="526.50" x2="448.33" y2="533.50" stroke="#65a6dd" stroke-width="2.00"/>
<line x1="442.13" y1="526.50" x2="454.53" y2="526.50" stroke="#65a6dd" stroke-width="2.00"/>
<line x1="442.13" y1="533.50" x2="454.53" y2="533.50" stroke="#65a6dd" stroke-width="2.00"/>
<line x1="464.27" y1="380.80" x2="464.27" y2="385.20" stroke="#65a6dd" stroke-width="2.00"/>
<line x1="458.07" y1="380.80" x2="470.47" y2="380.80" stroke="#65a6dd" stroke-width="2.00"/>
<line x1="458.07" y1="385.20" x2="470.47" y2="385.20" stroke="#65a6dd" stroke-width="2.00"/>
<line x1="480.20" y1="383.10" x2="480.20" y2="387.50" stroke="#65a6dd" stroke-width="2.00"/>
<line x1="474.00" y1="383.10" x2="486.40" y2="383.10" stroke="#65a6dd" stroke-width="2.00"/>
<line x1="474.00" y1="387.50" x2="486.40" y2="387.50" stroke="#65a6dd" stroke-width="2.00"/>
<line x1="496.13" y1="417.80" x2="496.13" y2="422.20" stroke="#65a6dd" stroke-width="2.00"/>
<line x1="489.93" y1="417.80" x2="502.33" y2="417.80" stroke="#65a6dd" stroke-width="2.00"/>
<line x1="489.93" y1="422.20" x2="502.33" y2="422.20" stroke="#65a6dd" stroke-width="2.00"/>
<line x1="512.06" y1="416.10" x2="512.06" y2="420.50" stroke="#65a6dd" stroke-width="2.00"/>
<line x1="505.86" y1="416.10" x2="518.26" y2="416.10" stroke="#65a6dd" stroke-width="2.00"/>
<line x1="505.86" y1="420.50" x2="518.26" y2="420.50" stroke="#65a6dd" stroke-width="2.00"/>
<line x1="528.00" y1="414.00" x2="528.00" y2="418.40" stroke="#65a6dd" stroke-width="2.00"/>
<line x1="521.80" y1="414.00" x2="534.20" y2="414.00" stroke="#65a6dd" stroke-width="2.00"/>
<line x1="521.80" y1="418.40" x2="534.20" y2="418.40" stroke="#65a6dd" stroke-width="2.00"/>
<line x1="543.93" y1="417.30" x2="543.93" y2="421.70" stroke="#65a6dd" stroke-width="2.00"/>
<line x1="537.73" y1="417.30" x2="550.13" y2="417.30" stroke="#65a6dd" stroke-width="2.00"/>
<line x1="537.73" y1="421.70" x2="550.13" y2="421.70" stroke="#65a6dd" stroke-width="2.00"/>
<line x1="559.86" y1="344.90" x2="559.86" y2="349.30" stroke="#65a6dd" stroke-width="2.00"/>
<line x1="553.66" y1="344.90" x2="566.06" y2="344.90" stroke="#65a6dd" stroke-width="2.00"/>
<line x1="553.66" y1="349.30" x2="566.06" y2="349.30" stroke="#65a6dd" stroke-width="2.00"/>
<line x1="575.80" y1="393.80" x2="575.80" y2="398.20" stroke="#65a6dd" stroke-width="2.00"/>
<line x1="569.60" y1="393.80" x2="582.00" y2="393.80" stroke="#65a6dd" stroke-width="2.00"/>
<line x1="569.60" y1="398.20" x2="582.00" y2="398.20" stroke="#65a6dd" stroke-width="2.00"/>
<line x1="591.73" y1="396.00" x2="591.73" y2="400.40" stroke="#65a6dd" stroke-width="2.00"/>
<line x1="585.53" y1="396.00" x2="597.93" y2="396.00" stroke="#65a6dd" stroke-width="2.00"/>
<line x1="585.53" y1="400.40" x2="597.93" y2="400.40" stroke="#65a6dd" stroke-width="2.00"/>
<line x1="607.66" y1="323.80" x2="607.66" y2="328.20" stroke="#65a6dd" stroke-width="2.00"/>
<line x1="601.46" y1="323.80" x2="613.86" y2="323.80" stroke="#65a6dd" stroke-width="2.00"/>
<line x1="601.46" y1="328.20" x2="613.86" y2="328.20" stroke="#65a6dd" stroke-width="2.00"/>
<line x1="623.60" y1="403.10" x2="623.60" y2="407.50" stroke="#65a6dd" stroke-width="2.00"/>
<line x1="617.40" y1="403.10" x2="629.80" y2="403.10" stroke="#65a6dd" stroke-width="2.00"/>
<line x1="617.40" y1="407.50" x2="629.80" y2="407.50" stroke="#65a6dd" stroke-width="2.00"/>
<line x1="639.53" y1="403.80" x2="639.53" y2="408.20" stroke="#65a6dd" stroke-width="2.00"/>
<line x1="633.33" y1="403.80" x2="645.73" y2="403.80" stroke="#65a6dd" stroke-width="2.00"/>
<line x1="633.33" y1="408.20" x2="645.73" y2="408.20" stroke="#65a6dd" stroke-width="2.00"/>
<line x1="655.46" y1="416.80" x2="655.46" y2="421.20" stroke="#65a6dd" stroke-width="2.00"/>
<line x1="649.26" y1="416.80" x2="661.66" y2="416.80" stroke="#65a6dd" stroke-width="2.00"/>
<line x1="649.26" y1="421.20" x2="661.66" y2="421.20" stroke="#65a6dd" stroke-width="2.00"/>
<line x1="671.39" y1="346.60" x2="671.39" y2="351.00" stroke="#65a6dd" stroke-width="2.00"/>
<line x1="665.19" y1="346.60" x2="677.60" y2="346.60" stroke="#65a6dd" stroke-width="2.00"/>
<line x1="665.19" y1="351.00" x2="677.60" y2="351.00" stroke="#65a6dd" stroke-width="2.00"/>
<rect x="429.30" y="437.90" width="6.20" height="6.20" fill="#0e2a50"/>
<rect x="445.23" y="519.00" width="6.20" height="6.20" fill="#0e2a50"/>
<rect x="461.17" y="379.40" width="6.20" height="6.20" fill="#0e2a50"/>
<rect x="477.10" y="386.40" width="6.20" height="6.20" fill="#0e2a50"/>
<rect x="493.03" y="423.20" width="6.20" height="6.20" fill="#0e2a50"/>
<rect x="508.96" y="422.70" width="6.20" height="6.20" fill="#0e2a50"/>
<rect x="524.90" y="412.40" width="6.20" height="6.20" fill="#0e2a50"/>
<rect x="540.83" y="413.40" width="6.20" height="6.20" fill="#0e2a50"/>
<rect x="556.76" y="341.90" width="6.20" height="6.20" fill="#0e2a50"/>
<rect x="572.70" y="398.40" width="6.20" height="6.20" fill="#0e2a50"/>
<rect x="588.63" y="391.40" width="6.20" height="6.20" fill="#0e2a50"/>
<rect x="604.56" y="327.90" width="6.20" height="6.20" fill="#0e2a50"/>
<rect x="620.50" y="406.40" width="6.20" height="6.20" fill="#0e2a50"/>
<rect x="636.43" y="408.40" width="6.20" height="6.20" fill="#0e2a50"/>
<rect x="652.36" y="424.50" width="6.20" height="6.20" fill="#0e2a50"/>
<rect x="668.29" y="352.40" width="6.20" height="6.20" fill="#0e2a50"/>
<path d="M432.40 445.10L435.50 449.40L432.40 453.70L429.30 449.40Z" fill="#8b0d12"/>
<path d="M448.33 524.20L451.43 528.50L448.33 532.80L445.23 528.50Z" fill="#8b0d12"/>
<path d="M464.27 377.70L467.37 382.00L464.27 386.30L461.17 382.00Z" fill="#8b0d12"/>
<path d="M480.20 387.10L483.30 391.40L480.20 395.70L477.10 391.40Z" fill="#8b0d12"/>
<path d="M496.13 419.70L499.23 424.00L496.13 428.30L493.03 424.00Z" fill="#8b0d12"/>
<path d="M512.06 420.00L515.16 424.30L512.06 428.60L508.96 424.30Z" fill="#8b0d12"/>
<path d="M528.00 413.20L531.10 417.50L528.00 421.80L524.90 417.50Z" fill="#8b0d12"/>
<path d="M543.93 421.40L547.03 425.70L543.93 430.00L540.83 425.70Z" fill="#8b0d12"/>
<path d="M559.86 346.40L562.96 350.70L559.86 355.00L556.76 350.70Z" fill="#8b0d12"/>
<path d="M575.80 389.70L578.90 394.00L575.80 398.30L572.70 394.00Z" fill="#8b0d12"/>
<path d="M591.73 392.70L594.83 397.00L591.73 401.30L588.63 397.00Z" fill="#8b0d12"/>
<path d="M607.66 323.70L610.76 328.00L607.66 332.30L604.56 328.00Z" fill="#8b0d12"/>
<path d="M623.60 403.70L626.70 408.00L623.60 412.30L620.50 408.00Z" fill="#8b0d12"/>
<path d="M639.53 405.70L642.63 410.00L639.53 414.30L636.43 410.00Z" fill="#8b0d12"/>
<path d="M655.46 423.40L658.56 427.70L655.46 432.00L652.36 427.70Z" fill="#8b0d12"/>
<path d="M671.39 352.50L674.50 356.80L671.39 361.10L668.29 356.80Z" fill="#8b0d12"/>
<path d="M432.40 439.15L435.82 445.45L428.98 445.45Z" fill="#2f6890"/>
<path d="M448.33 523.40L451.75 529.70L444.91 529.70Z" fill="#2f6890"/>
<path d="M464.27 378.90L467.69 385.20L460.85 385.20Z" fill="#2f6890"/>
<path d="M480.20 387.40L483.62 393.70L476.78 393.70Z" fill="#2f6890"/>
<path d="M496.13 417.40L499.55 423.70L492.71 423.70Z" fill="#2f6890"/>
<path d="M512.06 415.90L515.48 422.20L508.64 422.20Z" fill="#2f6890"/>
<path d="M528.00 412.40L531.42 418.70L524.58 418.70Z" fill="#2f6890"/>
<path d="M543.93 414.40L547.35 420.70L540.51 420.70Z" fill="#2f6890"/>
<path d="M559.86 343.40L563.28 349.70L556.44 349.70Z" fill="#2f6890"/>
<path d="M575.80 396.90L579.22 403.20L572.38 403.20Z" fill="#2f6890"/>
<path d="M591.73 393.90L595.15 400.20L588.31 400.20Z" fill="#2f6890"/>
<path d="M607.66 331.40L611.08 337.70L604.24 337.70Z" fill="#2f6890"/>
<path d="M623.60 402.40L627.02 408.70L620.18 408.70Z" fill="#2f6890"/>
<path d="M639.53 403.40L642.95 409.70L636.11 409.70Z" fill="#2f6890"/>
<path d="M655.46 414.40L658.88 420.70L652.04 420.70Z" fill="#2f6890"/>
<path d="M671.39 347.40L674.81 353.70L667.98 353.70Z" fill="#2f6890"/>
<circle cx="432.40" cy="444.70" r="3.20" fill="#65a6dd"/>
<circle cx="448.33" cy="530.00" r="3.20" fill="#65a6dd"/>
<circle cx="464.27" cy="383.00" r="3.20" fill="#65a6dd"/>
<circle cx="480.20" cy="385.30" r="3.20" fill="#65a6dd"/>
<circle cx="496.13" cy="420.00" r="3.20" fill="#65a6dd"/>
<circle cx="512.06" cy="418.30" r="3.20" fill="#65a6dd"/>
<circle cx="528.00" cy="416.20" r="3.20" fill="#65a6dd"/>
<circle cx="543.93" cy="419.50" r="3.20" fill="#65a6dd"/>
<circle cx="559.86" cy="347.10" r="3.20" fill="#65a6dd"/>
<circle cx="575.80" cy="396.00" r="3.20" fill="#65a6dd"/>
<circle cx="591.73" cy="398.20" r="3.20" fill="#65a6dd"/>
<circle cx="607.66" cy="326.00" r="3.20" fill="#65a6dd"/>
<circle cx="623.60" cy="405.30" r="3.20" fill="#65a6dd"/>
<circle cx="639.53" cy="406.00" r="3.20" fill="#65a6dd"/>
<circle cx="655.46" cy="419.00" r="3.20" fill="#65a6dd"/>
<circle cx="671.39" cy="348.80" r="3.20" fill="#65a6dd"/>
<rect x="420.40" y="302.50" width="262.80" height="240.90" fill="none" stroke="#9a9a9a" stroke-width="1"/>
<g stroke="#9a9a9a" stroke-width="1">
<line x1="432.40" y1="543.40" x2="432.40" y2="545.00"/>
<line x1="448.33" y1="543.40" x2="448.33" y2="545.00"/>
<line x1="464.27" y1="543.40" x2="464.27" y2="545.00"/>
<line x1="480.20" y1="543.40" x2="480.20" y2="545.00"/>
<line x1="496.13" y1="543.40" x2="496.13" y2="545.00"/>
<line x1="512.06" y1="543.40" x2="512.06" y2="545.00"/>
<line x1="528.00" y1="543.40" x2="528.00" y2="545.00"/>
<line x1="543.93" y1="543.40" x2="543.93" y2="545.00"/>
<line x1="559.86" y1="543.40" x2="559.86" y2="545.00"/>
<line x1="575.80" y1="543.40" x2="575.80" y2="545.00"/>
<line x1="591.73" y1="543.40" x2="591.73" y2="545.00"/>
<line x1="607.66" y1="543.40" x2="607.66" y2="545.00"/>
<line x1="623.60" y1="543.40" x2="623.60" y2="545.00"/>
<line x1="639.53" y1="543.40" x2="639.53" y2="545.00"/>
<line x1="655.46" y1="543.40" x2="655.46" y2="545.00"/>
<line x1="671.39" y1="543.40" x2="671.39" y2="545.00"/>
<line x1="418.80" y1="313.40" x2="420.40" y2="313.40"/>
<line x1="418.80" y1="341.75" x2="420.40" y2="341.75"/>
<line x1="418.80" y1="370.10" x2="420.40" y2="370.10"/>
<line x1="418.80" y1="398.45" x2="420.40" y2="398.45"/>
<line x1="418.80" y1="426.80" x2="420.40" y2="426.80"/>
<line x1="418.80" y1="455.15" x2="420.40" y2="455.15"/>
<line x1="418.80" y1="483.50" x2="420.40" y2="483.50"/>
<line x1="418.80" y1="511.85" x2="420.40" y2="511.85"/>
<line x1="418.80" y1="540.20" x2="420.40" y2="540.20"/>
</g>
<text x="417.10" y="318.60" font-size="14.00" font-weight="bold" text-anchor="end" textLength="32.07" lengthAdjust="spacingAndGlyphs">0.02</text>
<text x="417.10" y="346.95" font-size="14.00" font-weight="bold" text-anchor="end" textLength="32.07" lengthAdjust="spacingAndGlyphs">0.01</text>
<text x="417.10" y="375.30" font-size="14.00" font-weight="bold" text-anchor="end" textLength="32.07" lengthAdjust="spacingAndGlyphs">0.00</text>
<text x="417.10" y="403.65" font-size="14.00" font-weight="bold" text-anchor="end" textLength="42.97" lengthAdjust="spacingAndGlyphs">−0.01</text>
<text x="417.10" y="432.00" font-size="14.00" font-weight="bold" text-anchor="end" textLength="42.97" lengthAdjust="spacingAndGlyphs">−0.02</text>
<text x="417.10" y="460.35" font-size="14.00" font-weight="bold" text-anchor="end" textLength="42.97" lengthAdjust="spacingAndGlyphs">−0.03</text>
<text x="417.10" y="488.70" font-size="14.00" font-weight="bold" text-anchor="end" textLength="42.97" lengthAdjust="spacingAndGlyphs">−0.04</text>
<text x="417.10" y="517.05" font-size="14.00" font-weight="bold" text-anchor="end" textLength="42.97" lengthAdjust="spacingAndGlyphs">−0.05</text>
<text x="417.10" y="545.40" font-size="14.00" font-weight="bold" text-anchor="end" textLength="42.97" lengthAdjust="spacingAndGlyphs">−0.06</text>
<text transform="translate(430.40 554.70) rotate(-45)" font-size="14.00" font-weight="bold" text-anchor="end" textLength="46.30" lengthAdjust="spacingAndGlyphs">LN300</text>
<text transform="translate(446.33 554.70) rotate(-45)" font-size="14.00" font-weight="bold" text-anchor="end" textLength="46.30" lengthAdjust="spacingAndGlyphs">LN450</text>
<text transform="translate(462.27 554.70) rotate(-45)" font-size="14.00" font-weight="bold" text-anchor="end" textLength="58.61" lengthAdjust="spacingAndGlyphs">Adipose</text>
<text transform="translate(478.20 554.70) rotate(-45)" font-size="14.00" font-weight="bold" text-anchor="end" textLength="47.86" lengthAdjust="spacingAndGlyphs">Breast</text>
<text transform="translate(494.13 554.70) rotate(-45)" font-size="14.00" font-weight="bold" text-anchor="end" textLength="38.13" lengthAdjust="spacingAndGlyphs">SW B</text>
<text transform="translate(510.06 554.70) rotate(-45)" font-size="14.00" font-weight="bold" text-anchor="end" textLength="39.02" lengthAdjust="spacingAndGlyphs">SW D</text>
<text transform="translate(526.00 554.70) rotate(-45)" font-size="14.00" font-weight="bold" text-anchor="end" textLength="38.29" lengthAdjust="spacingAndGlyphs">SW A</text>
<text transform="translate(541.93 554.70) rotate(-45)" font-size="14.00" font-weight="bold" text-anchor="end" textLength="37.77" lengthAdjust="spacingAndGlyphs">SW C</text>
<text transform="translate(557.86 554.70) rotate(-45)" font-size="14.00" font-weight="bold" text-anchor="end" textLength="60.45" lengthAdjust="spacingAndGlyphs">T. Water</text>
<text transform="translate(573.80 554.70) rotate(-45)" font-size="14.00" font-weight="bold" text-anchor="end" textLength="65.50" lengthAdjust="spacingAndGlyphs">Muscle A</text>
<text transform="translate(589.73 554.70) rotate(-45)" font-size="14.00" font-weight="bold" text-anchor="end" textLength="65.34" lengthAdjust="spacingAndGlyphs">Muscle B</text>
<text transform="translate(605.66 554.70) rotate(-45)" font-size="14.00" font-weight="bold" text-anchor="end" textLength="38.80" lengthAdjust="spacingAndGlyphs">Brain</text>
<text transform="translate(621.60 554.70) rotate(-45)" font-size="14.00" font-weight="bold" text-anchor="end" textLength="36.44" lengthAdjust="spacingAndGlyphs">Liver</text>
<text transform="translate(637.53 554.70) rotate(-45)" font-size="14.00" font-weight="bold" text-anchor="end" textLength="80.01" lengthAdjust="spacingAndGlyphs">Inner Bone</text>
<text transform="translate(653.46 554.70) rotate(-45)" font-size="14.00" font-weight="bold" text-anchor="end" textLength="73.02" lengthAdjust="spacingAndGlyphs">Bone Min.</text>
<text transform="translate(669.39 554.70) rotate(-45)" font-size="14.00" font-weight="bold" text-anchor="end" textLength="51.98" lengthAdjust="spacingAndGlyphs">CB2-30</text>
<text x="551.80" y="623.6" font-size="14.00" font-weight="bold" text-anchor="middle" textLength="51.01" lengthAdjust="spacingAndGlyphs">Inserts</text>
<text transform="translate(368.4 422.95) rotate(-90)" font-size="14.00" font-weight="bold" text-anchor="middle" textLength="69.9" lengthAdjust="spacingAndGlyphs">&#916;<tspan font-style="italic">&#961;</tspan> [g/mL]</text>
<rect x="496.30" y="437.60" width="180.70" height="99.10" rx="3" fill="#fff" fill-opacity="1" stroke="#d6d6d6" stroke-width="1"/>
<circle cx="502.00" cy="448.50" r="0.95" fill="#000"/>
<circle cx="510.10" cy="448.50" r="0.95" fill="#000"/>
<circle cx="518.20" cy="448.50" r="0.95" fill="#000"/>
<circle cx="526.30" cy="448.50" r="0.95" fill="#000"/>
<line x1="515.00" y1="460.90" x2="515.00" y2="474.10" stroke="#0e2a50" stroke-width="2.00"/>
<line x1="509.30" y1="460.90" x2="520.70" y2="460.90" stroke="#0e2a50" stroke-width="2.00"/>
<line x1="509.30" y1="474.10" x2="520.70" y2="474.10" stroke="#0e2a50" stroke-width="2.00"/>
<rect x="512.05" y="464.56" width="5.89" height="5.89" fill="#0e2a50"/>
<line x1="515.00" y1="479.80" x2="515.00" y2="493.00" stroke="#8b0d12" stroke-width="2.00"/>
<line x1="509.30" y1="479.80" x2="520.70" y2="479.80" stroke="#8b0d12" stroke-width="2.00"/>
<line x1="509.30" y1="493.00" x2="520.70" y2="493.00" stroke="#8b0d12" stroke-width="2.00"/>
<path d="M515.00 482.31L517.95 486.40L515.00 490.48L512.05 486.40Z" fill="#8b0d12"/>
<line x1="515.00" y1="498.90" x2="515.00" y2="512.10" stroke="#2f6890" stroke-width="2.00"/>
<line x1="509.30" y1="498.90" x2="520.70" y2="498.90" stroke="#2f6890" stroke-width="2.00"/>
<line x1="509.30" y1="512.10" x2="520.70" y2="512.10" stroke="#2f6890" stroke-width="2.00"/>
<path d="M515.00 502.08L518.25 508.06L511.75 508.06Z" fill="#2f6890"/>
<line x1="515.00" y1="518.20" x2="515.00" y2="531.40" stroke="#65a6dd" stroke-width="2.00"/>
<line x1="509.30" y1="518.20" x2="520.70" y2="518.20" stroke="#65a6dd" stroke-width="2.00"/>
<line x1="509.30" y1="531.40" x2="520.70" y2="531.40" stroke="#65a6dd" stroke-width="2.00"/>
<circle cx="515.00" cy="524.80" r="3.04" fill="#65a6dd"/>
<text x="538.6" y="453.20" font-size="14.00" font-weight="bold" textLength="100.18" lengthAdjust="spacingAndGlyphs">nominal error</text>
<text x="538.6" y="472.20" font-size="14.00" font-weight="bold" textLength="132.14" lengthAdjust="spacingAndGlyphs">120 kVp, 100 mAs</text>
<text x="538.6" y="491.10" font-size="14.00" font-weight="bold" textLength="132.14" lengthAdjust="spacingAndGlyphs">120 kVp, 330 mAs</text>
<text x="538.6" y="510.20" font-size="14.00" font-weight="bold" textLength="123.10" lengthAdjust="spacingAndGlyphs">140 kVp, 68 mAs</text>
<text x="538.6" y="529.50" font-size="14.00" font-weight="bold" textLength="132.14" lengthAdjust="spacingAndGlyphs">140 kVp, 210 mAs</text>
</g>
</svg>
</body></html>
